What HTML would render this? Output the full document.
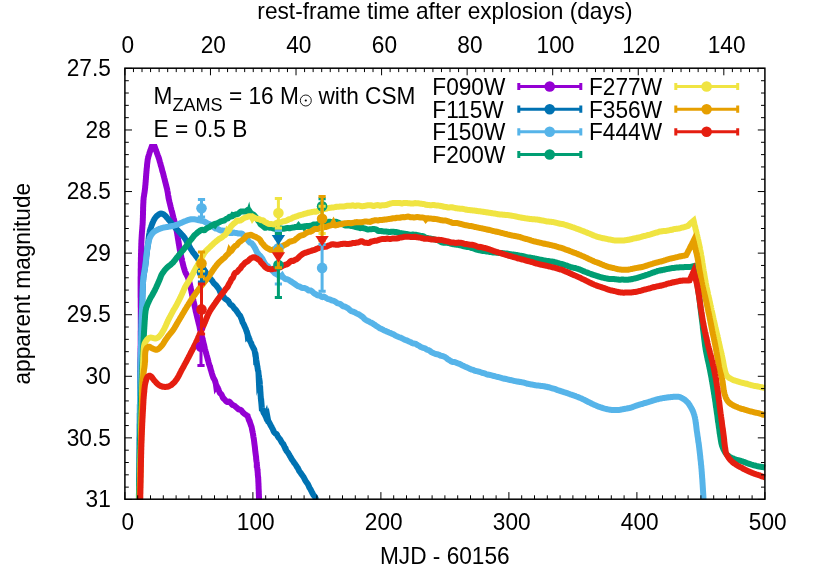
<!DOCTYPE html>
<html><head><meta charset="utf-8"><title>plot</title>
<style>html,body{margin:0;padding:0;background:#fff}svg{display:block}text{font-family:"Liberation Sans",sans-serif;fill:#000}</style></head><body>
<svg width="817" height="572" viewBox="0 0 817 572" style="will-change:transform">
<rect width="817" height="572" fill="#fff"/>
<defs><clipPath id="c"><rect x="124.1" y="67.4" width="641.6" height="432.6"/></clipPath></defs>
<g clip-path="url(#c)" fill="none" stroke-linejoin="miter" stroke-miterlimit="8" stroke-linecap="butt">
<path d="M139.5 500.5L139.5 499.7L139.5 498.9L139.5 498.1L139.5 497.3L139.5 496.5L139.5 495.7L139.5 494.9L139.5 494.1L139.6 493.3L139.6 492.5L139.6 491.7L139.6 490.9L139.6 490.0L139.6 489.2L139.6 488.4L139.6 487.6L139.6 486.8L139.6 486.0L139.6 485.2L139.6 484.4L139.6 483.6L139.6 482.8L139.6 482.0L139.6 481.2L139.6 480.4L139.6 479.6L139.7 478.8L139.7 478.0L139.7 477.2L139.7 476.4L139.7 475.6L139.7 474.8L139.7 474.0L139.7 473.2L139.7 472.4L139.7 471.6L139.7 470.8L139.7 469.9L139.7 469.1L139.7 468.3L139.7 467.5L139.7 466.7L139.7 465.9L139.7 465.1L139.8 464.3L139.8 463.5L139.8 462.7L139.8 461.9L139.8 461.1L139.8 460.3L139.8 459.5L139.8 458.7L139.8 457.9L139.8 457.1L139.8 456.3L139.8 455.5L139.8 454.7L139.8 453.9L139.8 453.1L139.8 452.3L139.8 451.5L139.8 450.7L139.8 449.8L139.9 449.0L139.9 448.2L139.9 447.4L139.9 446.6L139.9 445.8L139.9 445.0L139.9 444.2L139.9 443.4L139.9 442.6L139.9 441.8L139.9 441.0L139.9 440.2L139.9 439.4L139.9 438.6L139.9 437.8L139.9 437.0L139.9 436.2L140.0 435.4L140.0 434.6L140.0 433.8L140.0 433.0L140.0 432.2L140.0 431.4L140.0 430.6L140.0 429.7L140.0 428.9L140.0 428.1L140.0 427.3L140.0 426.5L140.0 425.7L140.0 424.9L140.0 424.1L140.0 423.3L140.0 422.5L140.0 421.7L140.1 420.9L140.1 420.1L140.1 419.3L140.1 418.5L140.1 417.7L140.1 416.9L140.1 416.1L140.1 415.3L140.1 414.5L140.1 413.7L140.1 412.9L140.1 412.1L140.1 411.3L140.1 410.5L140.1 409.6L140.1 408.8L140.1 408.0L140.1 407.2L140.2 406.4L140.2 405.6L140.2 404.8L140.2 404.0L140.2 403.2L140.2 402.4L140.2 401.6L140.2 400.8L140.2 400.0L140.2 399.2L140.2 398.4L140.2 397.6L140.2 396.8L140.2 396.0L140.2 395.2L140.2 394.4L140.2 393.6L140.3 392.8L140.3 392.0L140.3 391.2L140.3 390.4L140.3 389.6L140.3 388.8L140.3 388.0L140.3 387.2L140.3 386.4L140.3 385.6L140.3 384.8L140.3 384.0L140.3 383.2L140.3 382.4L140.3 381.6L140.4 380.8L140.4 380.0L140.4 379.2L140.4 378.4L140.4 377.6L140.4 376.8L140.4 376.0L140.4 375.2L140.4 374.4L140.4 373.6L140.4 372.8L140.4 372.0L140.4 371.2L140.4 370.4L140.5 369.6L140.5 368.8L140.5 368.0L140.5 367.2L140.5 366.4L140.5 365.6L140.5 364.8L140.5 364.0L140.5 363.2L140.5 362.4L140.5 361.6L140.5 360.8L140.5 360.0L140.5 359.2L140.6 358.4L140.6 357.6L140.6 356.8L140.6 356.0L140.6 355.2L140.6 354.4L140.6 353.6L140.6 352.8L140.6 352.0L140.6 351.2L140.6 350.4L140.6 349.6L140.6 348.8L140.6 348.0L140.6 347.2L140.6 346.4L140.7 345.6L140.7 344.8L140.7 344.0L140.7 343.2L140.7 342.4L140.7 341.6L140.7 340.8L140.7 340.0L140.7 339.2L140.7 338.4L140.7 337.6L140.7 336.8L140.7 336.0L140.7 335.2L140.7 334.4L140.7 333.6L140.7 332.8L140.7 332.0L140.7 331.2L140.8 330.4L140.8 329.6L140.8 328.8L140.8 328.0L140.8 327.2L140.8 326.4L140.8 325.6L140.8 324.8L140.8 324.0L140.8 323.2L140.8 322.4L140.8 321.6L140.8 320.8L140.8 320.0L140.8 319.2L140.8 318.4L140.8 317.6L140.8 316.7L140.8 315.9L140.8 315.1L140.8 314.3L140.8 313.5L140.8 312.7L140.8 311.9L140.8 311.1L140.8 310.2L140.8 309.4L140.8 308.6L140.8 307.8L140.7 307.0L140.7 306.2L140.7 305.4L140.7 304.6L140.7 303.7L140.7 302.9L140.7 302.1L140.7 301.3L140.7 300.5L140.7 299.7L140.7 298.9L140.7 298.1L140.6 297.2L140.6 296.4L140.6 295.6L140.6 294.8L140.6 294.0L140.6 293.2L140.6 292.4L140.6 291.6L140.6 290.7L140.6 289.9L140.6 289.1L140.6 288.3L140.6 287.5L140.6 286.7L140.6 285.9L140.6 285.1L140.6 284.2L140.6 283.4L140.6 282.6L140.6 281.8L140.6 281.0L140.6 280.2L140.6 279.4L140.6 278.6L140.6 277.8L140.6 277.0L140.7 276.2L140.7 275.4L140.7 274.6L140.7 273.8L140.7 273.0L140.7 272.2L140.7 271.4L140.7 270.6L140.7 269.8L140.7 269.0L140.8 268.2L140.8 267.4L140.8 266.6L140.8 265.8L140.8 265.0L140.8 264.2L140.8 263.4L140.8 262.6L140.9 261.8L140.9 261.0L140.9 260.2L140.9 259.4L140.9 258.6L140.9 257.8L141.0 257.0L141.0 256.2L141.0 255.4L141.0 254.6L141.0 253.8L141.1 253.0L141.1 252.2L141.1 251.4L141.1 250.6L141.1 249.8L141.2 249.0L141.2 248.2L141.2 247.4L141.2 246.6L141.3 245.8L141.3 245.0L141.3 244.2L141.3 243.4L141.4 242.6L141.4 241.8L141.4 241.0L141.5 240.1L141.5 239.3L141.6 238.5L141.6 237.7L141.7 236.8L141.7 236.0L141.8 235.2L141.8 234.4L141.9 233.5L141.9 232.7L142.0 231.9L142.1 231.1L142.1 230.2L142.2 229.4L142.3 228.6L142.3 227.8L142.4 227.0L142.4 226.1L142.5 225.3L142.6 224.5L142.6 223.7L142.7 222.8L142.7 222.0L142.7 221.2L142.8 220.4L142.8 219.6L142.8 218.7L142.9 217.9L142.9 217.1L142.9 216.3L142.9 215.5L143.0 214.7L143.0 213.9L143.0 213.0L143.0 212.2L143.0 211.4L143.1 210.6L143.1 209.8L143.1 209.0L143.1 208.1L143.1 207.3L143.2 206.5L143.2 205.7L143.2 204.9L143.3 204.1L143.3 203.3L143.4 202.4L143.4 201.6L143.4 200.8L143.5 200.0L143.6 199.2L143.6 198.4L143.7 197.6L143.8 196.8L144.0 196.0L144.1 195.2L144.2 194.4L144.3 193.6L144.5 192.8L144.6 192.0L144.7 191.2L144.8 190.4L144.9 189.6L145.0 188.8L145.1 188.0L145.2 187.2L145.2 186.4L145.3 185.6L145.4 184.8L145.5 183.9L145.5 183.1L145.6 182.3L145.7 181.5L145.7 180.7L145.8 179.9L145.9 179.1L145.9 178.3L146.0 177.5L146.0 176.7L146.1 175.9L146.2 175.0L146.2 174.2L146.3 173.4L146.4 172.6L146.4 171.8L146.5 171.0L146.6 170.2L146.6 169.4L146.7 168.6L146.8 167.8L146.9 167.0L147.0 166.1L147.0 165.3L147.1 164.5L147.2 163.7L147.3 162.9L147.4 162.1L147.5 161.3L147.6 160.5L147.7 159.6L147.9 158.8L148.1 157.9L148.3 157.1L148.5 156.2L148.8 155.4L149.0 154.5L149.3 153.7L149.5 152.8L149.8 152.0L150.1 151.2L150.4 150.4L150.7 149.5L151.0 148.7L151.3 147.9L151.6 147.1L152.4 147.1L153.2 147.1L154.0 147.1L154.8 147.1L155.1 147.9L155.4 148.7L155.7 149.5L156.0 150.4L156.3 151.2L156.6 152.0L156.9 152.8L157.1 153.5L157.4 154.3L157.7 155.1L158.0 155.8L158.3 156.6L158.5 157.4L158.8 158.2L159.0 158.9L159.3 159.7L159.5 160.5L159.7 161.3L159.9 162.1L160.2 162.8L160.4 163.6L160.6 164.4L160.8 165.2L161.0 166.0L161.3 166.8L161.5 167.5L161.7 168.3L161.9 169.1L162.1 169.9L162.3 170.7L162.5 171.5L162.8 172.3L163.0 173.0L163.2 173.8L163.4 174.6L163.6 175.4L163.8 176.2L164.0 177.0L164.2 177.8L164.4 178.5L164.6 179.3L164.8 180.1L165.0 180.9L165.2 181.7L165.4 182.5L165.6 183.3L165.8 184.1L166.0 184.9L166.2 185.6L166.4 186.4L166.6 187.2L166.8 188.0L167.0 188.8L167.2 189.6L167.3 190.4L167.5 191.2L167.6 192.0L167.8 192.8L167.9 193.6L168.0 194.4L168.1 195.2L168.3 196.0L168.4 196.8L168.5 197.6L168.7 198.4L168.8 199.2L169.0 200.0L169.2 200.8L169.4 201.6L169.6 202.5L169.8 203.3L170.0 204.1L170.2 204.9L170.4 205.7L170.6 206.5L170.8 207.4L171.0 208.2L171.2 209.0L171.4 209.8L171.6 210.6L171.9 211.4L172.1 212.3L172.3 213.1L172.5 213.9L172.7 214.7L172.9 215.5L173.1 216.3L173.3 217.1L173.5 218.0L173.8 218.8L174.0 219.6L174.2 220.4L174.4 221.2L174.6 222.0L174.8 222.8L175.0 223.7L175.2 224.5L175.4 225.3L175.6 226.1L175.8 226.9L176.0 227.8L176.2 228.6L176.4 229.4L176.6 230.2L176.7 231.0L176.9 231.9L177.0 232.7L177.2 233.5L177.3 234.3L177.4 235.2L177.6 236.0L177.7 236.8L177.8 237.7L178.0 238.5L178.1 239.3L178.2 240.1L178.4 241.0L178.5 241.8L178.6 242.6L178.8 243.4L178.9 244.2L179.0 245.0L179.2 245.8L179.3 246.6L179.4 247.5L179.6 248.3L179.7 249.1L179.9 249.9L180.0 250.7L180.2 251.5L180.3 252.3L180.5 253.1L180.6 253.9L180.8 254.7L181.0 255.5L181.2 256.3L181.3 257.1L181.5 257.9L181.7 258.8L181.9 259.6L182.0 260.4L182.2 261.2L182.4 262.0L182.6 262.8L182.8 263.6L183.0 264.4L183.2 265.2L183.4 266.0L183.6 266.8L183.9 267.6L184.1 268.4L184.3 269.2L184.6 270.0L184.8 270.8L185.1 271.6L185.4 272.3L185.7 273.1L186.1 273.8L186.5 274.5L186.9 275.3L187.2 276.0L187.6 276.7L187.9 277.5L188.2 278.2L188.5 279.0L188.7 279.8L189.0 280.6L189.2 281.4L189.4 282.2L189.6 283.0L189.8 283.8L190.0 284.6L190.2 285.4L190.3 286.2L190.5 287.1L190.7 287.9L190.9 288.7L191.0 289.5L191.2 290.3L191.4 291.1L191.5 291.9L191.7 292.8L191.9 293.6L192.0 294.4L192.2 295.2L192.4 296.0L192.6 296.8L192.8 297.6L192.9 298.4L193.1 299.2L193.3 300.0L193.5 300.9L193.7 301.7L193.8 302.5L194.0 303.3L194.2 304.1L194.4 304.9L194.6 305.7L194.7 306.5L194.9 307.3L195.1 308.1L195.3 309.0L195.5 309.8L195.6 310.6L195.8 311.4L196.0 312.2L196.2 313.0L196.4 313.8L196.6 314.7L196.8 315.5L197.0 316.3L197.2 317.2L197.4 318.0L197.6 318.8L197.8 319.6L198.0 320.5L198.2 321.3L198.4 322.1L198.6 322.9L198.8 323.7L199.0 324.5L199.2 325.3L199.4 326.1L199.6 326.9L199.7 327.7L199.9 328.4L200.1 329.2L200.3 330.0L200.5 330.8L200.7 331.6L200.9 332.4L201.1 333.2L201.3 334.0L201.5 334.8L201.7 335.7L201.9 336.5L202.1 337.4L202.4 338.2L202.6 339.1L202.8 339.9L203.0 340.8L203.2 341.6L203.4 342.4L203.6 343.2L203.8 344.0L204.0 344.8L204.2 345.6L204.4 346.4L204.6 347.2L204.7 348.0L204.9 348.8L205.1 349.5L205.3 350.3L205.5 351.1L205.8 351.9L206.0 352.7L206.2 353.5L206.4 354.3L206.6 355.1L206.9 355.9L207.1 356.7L207.3 357.5L207.5 358.3L207.7 359.1L207.9 359.9L208.2 360.7L208.4 361.5L208.6 362.4L208.8 363.2L209.0 364.0L209.3 364.7L209.5 365.3L209.7 366.0L209.9 366.6L210.2 367.4L210.4 368.2L210.6 369.0L210.8 369.9L211.1 370.6L211.3 371.4L211.6 372.3L211.8 373.2L212.1 374.1L212.3 374.9L212.6 375.8L212.9 376.5L213.1 377.2L213.4 377.9L213.7 378.5L214.0 378.9L214.3 379.3L214.6 379.9L214.9 380.6L215.2 381.6L215.5 382.7L215.8 383.6L216.1 385.7L216.4 385.2L216.7 385.8L217.0 386.4L217.3 387.1L217.7 387.7L218.0 388.5L218.4 389.3L218.7 390.1L219.1 391.0L219.4 392.0L219.8 392.8L220.2 393.3L220.6 393.6L221.0 393.9L221.5 394.5L221.9 395.4L222.4 396.5L222.8 397.5L223.3 398.2L223.8 398.7L224.3 399.1L224.9 399.8L225.4 400.5L226.0 401.2L226.6 401.7L227.3 402.0L227.9 402.0L228.6 401.7L229.2 401.6L229.9 402.0L230.6 402.8L231.3 403.7L232.0 404.5L232.7 405.0L233.4 405.3L234.1 405.6L234.8 406.0L235.5 406.6L236.2 407.3L236.8 407.8L237.5 408.4L238.2 409.0L238.8 409.4L239.5 409.6L240.2 409.7L240.9 410.0L241.5 410.5L242.2 411.5L242.9 412.4L243.6 413.1L244.2 413.6L244.9 414.1L245.6 414.6L246.3 415.1L246.9 415.5L247.6 415.9L247.8 416.7L248.1 417.5L248.4 418.2L248.6 419.1L248.9 419.9L249.1 420.4L249.4 420.6L249.7 421.2L249.9 422.1L250.2 423.0L250.4 423.7L250.7 424.4L250.9 425.2L251.2 425.8L251.4 426.4L251.6 427.0L251.8 428.0L252.0 429.1L252.2 430.1L252.4 431.0L252.5 431.7L252.7 432.3L252.8 433.0L253.0 434.0L253.1 434.9L253.3 435.8L253.4 436.8L253.5 437.5L253.7 438.1L253.8 438.9L253.9 439.7L254.0 440.5L254.1 441.2L254.2 442.0L254.3 442.9L254.4 443.7L254.5 444.4L254.6 445.1L254.7 445.8L254.8 446.6L254.9 447.4L255.0 448.5L255.1 449.6L255.2 450.5L255.3 451.3L255.4 452.0L255.5 452.8L255.6 453.6L255.7 454.3L255.8 455.1L255.9 455.9L256.0 456.6L256.1 457.2L256.1 458.1L256.2 459.1L256.3 460.0L256.4 460.8L256.5 461.5L256.6 461.9L256.7 462.2L256.8 462.8L256.8 464.8L256.9 464.8L257.0 465.8L257.1 466.7L257.2 467.3L257.2 467.9L257.3 468.7L257.4 469.7L257.5 470.4L257.6 470.9L257.6 471.7L257.7 472.5L257.8 473.4L257.8 474.4L257.9 475.5L258.0 476.4L258.0 476.8L258.1 477.1L258.2 477.5L258.2 478.5L258.3 479.8L258.3 481.1L258.4 482.2L258.4 483.1L258.5 483.8L258.5 484.7L258.5 485.6L258.6 486.5L258.6 487.4L258.6 488.3L258.7 489.2L258.7 489.9L258.7 490.4L258.8 491.1L258.8 491.9L258.8 492.6L258.8 493.5L258.9 494.3L258.9 495.2L258.9 495.9L259.0 496.9L259.0 498.0L259.0 499.1L259.1 500.0L259.1 500.9" stroke="#9400D3" stroke-width="6.0"/>
<path d="M139.3 500.5L139.3 499.7L139.3 498.9L139.3 498.1L139.3 497.3L139.3 496.5L139.3 495.7L139.3 494.9L139.3 494.1L139.3 493.3L139.4 492.5L139.4 491.7L139.4 490.9L139.4 490.0L139.4 489.2L139.4 488.4L139.4 487.6L139.4 486.8L139.4 486.0L139.4 485.2L139.4 484.4L139.4 483.6L139.4 482.8L139.4 482.0L139.4 481.2L139.4 480.4L139.4 479.6L139.4 478.8L139.4 478.0L139.4 477.2L139.4 476.4L139.4 475.6L139.5 474.8L139.5 474.0L139.5 473.2L139.5 472.4L139.5 471.6L139.5 470.8L139.5 469.9L139.5 469.1L139.5 468.3L139.5 467.5L139.5 466.7L139.5 465.9L139.5 465.1L139.5 464.3L139.5 463.5L139.5 462.7L139.5 461.9L139.5 461.1L139.5 460.3L139.5 459.5L139.5 458.7L139.5 457.9L139.5 457.1L139.5 456.3L139.5 455.5L139.6 454.7L139.6 453.9L139.6 453.1L139.6 452.3L139.6 451.5L139.6 450.7L139.6 449.8L139.6 449.0L139.6 448.2L139.6 447.4L139.6 446.6L139.6 445.8L139.6 445.0L139.6 444.2L139.6 443.4L139.6 442.6L139.6 441.8L139.6 441.0L139.6 440.2L139.6 439.4L139.6 438.6L139.6 437.8L139.7 437.0L139.7 436.2L139.7 435.4L139.7 434.6L139.7 433.8L139.7 433.0L139.7 432.2L139.7 431.4L139.7 430.6L139.7 429.7L139.7 428.9L139.7 428.1L139.7 427.3L139.7 426.5L139.7 425.7L139.7 424.9L139.7 424.1L139.8 423.3L139.8 422.5L139.8 421.7L139.8 420.9L139.8 420.1L139.8 419.3L139.8 418.5L139.8 417.7L139.8 416.9L139.8 416.1L139.8 415.3L139.8 414.5L139.8 413.7L139.9 412.9L139.9 412.1L139.9 411.3L139.9 410.5L139.9 409.6L139.9 408.8L139.9 408.0L139.9 407.2L139.9 406.4L139.9 405.6L139.9 404.8L140.0 404.0L140.0 403.2L140.0 402.4L140.0 401.6L140.0 400.8L140.0 400.0L140.0 399.2L140.0 398.4L140.0 397.6L140.0 396.8L140.1 396.0L140.1 395.2L140.1 394.4L140.1 393.5L140.1 392.7L140.1 391.9L140.1 391.1L140.1 390.3L140.1 389.5L140.2 388.7L140.2 387.9L140.2 387.1L140.2 386.3L140.2 385.5L140.2 384.7L140.2 383.9L140.2 383.1L140.3 382.3L140.3 381.5L140.3 380.6L140.3 379.8L140.3 379.0L140.3 378.2L140.3 377.4L140.4 376.6L140.4 375.8L140.4 375.0L140.4 374.2L140.4 373.4L140.4 372.6L140.4 371.8L140.5 371.0L140.5 370.2L140.5 369.4L140.5 368.6L140.5 367.8L140.5 366.9L140.6 366.1L140.6 365.3L140.6 364.5L140.6 363.7L140.6 362.9L140.6 362.1L140.7 361.3L140.7 360.5L140.7 359.7L140.7 358.9L140.7 358.1L140.7 357.3L140.8 356.5L140.8 355.7L140.8 354.9L140.8 354.0L140.8 353.2L140.8 352.4L140.9 351.6L140.9 350.8L140.9 350.0L140.9 349.2L140.9 348.4L141.0 347.6L141.0 346.8L141.0 346.0L141.0 345.2L141.0 344.4L141.1 343.6L141.1 342.8L141.1 342.0L141.1 341.1L141.1 340.3L141.1 339.5L141.2 338.7L141.2 337.9L141.2 337.1L141.2 336.3L141.2 335.5L141.3 334.7L141.3 333.9L141.3 333.1L141.3 332.3L141.3 331.5L141.4 330.7L141.4 329.9L141.4 329.1L141.4 328.2L141.5 327.4L141.5 326.6L141.5 325.8L141.5 325.0L141.5 324.2L141.6 323.4L141.6 322.6L141.6 321.8L141.6 321.0L141.6 320.2L141.7 319.4L141.7 318.6L141.7 317.8L141.7 317.0L141.7 316.2L141.8 315.4L141.8 314.6L141.8 313.8L141.8 313.0L141.9 312.1L141.9 311.3L141.9 310.5L141.9 309.7L141.9 308.9L142.0 308.1L142.0 307.3L142.0 306.5L142.0 305.7L142.1 304.9L142.1 304.1L142.1 303.3L142.1 302.5L142.2 301.7L142.2 300.9L142.2 300.1L142.3 299.3L142.3 298.5L142.3 297.7L142.3 296.9L142.4 296.1L142.4 295.3L142.4 294.5L142.5 293.7L142.5 292.9L142.5 292.0L142.6 291.2L142.6 290.4L142.7 289.6L142.7 288.8L142.7 288.0L142.8 287.2L142.8 286.4L142.9 285.6L142.9 284.8L143.0 284.0L143.0 283.2L143.0 282.4L143.1 281.6L143.1 280.8L143.2 280.0L143.3 279.2L143.3 278.4L143.4 277.6L143.5 276.8L143.6 276.0L143.7 275.2L143.9 274.4L144.0 273.6L144.1 272.8L144.3 272.0L144.4 271.3L144.5 270.5L144.7 269.7L144.8 268.9L144.9 268.1L145.1 267.3L145.2 266.5L145.3 265.7L145.4 264.9L145.5 264.1L145.6 263.3L145.7 262.4L145.8 261.6L145.9 260.8L146.0 260.0L146.1 259.2L146.2 258.4L146.2 257.5L146.3 256.7L146.4 255.9L146.5 255.1L146.6 254.3L146.7 253.4L146.8 252.6L146.9 251.8L147.0 251.0L147.1 250.1L147.2 249.3L147.4 248.4L147.5 247.6L147.6 246.7L147.8 245.9L147.9 245.1L148.1 244.2L148.2 243.4L148.3 242.5L148.4 241.6L148.5 240.8L148.6 239.9L148.6 239.0L148.7 238.2L148.8 237.3L148.9 236.5L149.0 235.6L149.1 234.8L149.3 234.0L149.4 233.2L149.6 232.4L149.7 231.6L149.9 230.8L150.1 230.0L150.4 229.2L150.6 228.4L150.9 227.6L151.1 226.8L151.4 226.0L151.7 225.2L152.0 224.4L152.3 223.7L152.6 222.9L152.9 222.1L153.3 221.3L153.6 220.6L154.0 219.8L154.4 219.1L154.9 218.3L155.4 217.6L156.0 216.9L156.6 216.2L157.3 215.6L158.0 215.0L158.7 214.5L159.4 214.0L160.2 213.6L161.0 213.5L161.9 213.6L162.8 214.0L163.7 214.4L164.5 215.0L165.2 215.6L165.8 216.3L166.4 217.0L167.0 217.7L167.6 218.4L168.1 219.0L168.7 219.7L169.2 220.3L169.7 220.9L170.2 221.5L170.7 222.2L171.2 222.8L171.8 223.4L172.3 224.1L172.8 224.7L173.3 225.3L173.8 226.0L174.4 226.6L174.9 227.2L175.5 227.8L176.0 228.5L176.6 229.1L177.2 229.7L177.7 230.3L178.3 230.9L178.9 231.5L179.4 232.1L180.0 232.7L180.6 233.3L181.2 234.0L181.7 234.6L182.3 235.2L183.0 235.9L183.6 236.6L184.2 237.4L184.8 238.2L185.2 238.9L185.7 239.6L186.1 240.3L186.5 241.1L186.9 241.8L187.3 242.5L187.7 243.3L188.1 244.0L188.5 244.7L188.9 245.5L189.3 246.2L189.7 246.9L190.1 247.6L190.5 248.4L190.9 249.1L191.4 249.8L191.8 250.5L192.3 251.2L192.7 251.9L193.2 252.6L193.8 253.3L194.3 253.9L194.8 254.6L195.3 255.3L195.8 256.0L196.3 256.6L196.9 257.3L197.4 258.0L197.8 258.7L198.3 259.4L198.7 260.1L199.1 260.8L199.6 261.5L200.0 262.2L200.4 262.9L200.7 263.6L201.1 264.3L201.5 265.0L201.9 265.7L202.3 266.4L202.7 267.1L203.1 267.8L203.4 268.5L203.8 269.2L204.2 269.9L204.7 270.6L205.1 271.3L205.5 272.0L206.0 272.7L206.4 273.4L206.9 274.1L207.4 274.8L207.9 275.5L208.4 276.2L208.9 276.9L209.4 277.5L209.9 278.2L210.4 278.8L211.0 279.4L211.5 280.0L212.0 280.5L212.5 281.1L213.0 282.0L213.5 282.8L214.0 283.4L214.6 283.9L215.1 284.4L215.6 284.9L216.1 285.4L216.6 286.0L217.2 286.7L217.7 287.5L218.2 288.1L218.7 288.7L219.2 289.7L219.7 290.9L220.2 292.0L220.7 292.0L221.2 293.7L221.7 294.2L222.2 294.6L222.7 295.3L223.2 296.1L223.7 296.9L224.2 297.7L224.8 298.4L225.3 298.9L225.8 299.2L226.3 299.4L226.9 299.9L227.4 300.3L227.9 300.8L228.5 301.3L229.0 302.2L229.6 303.2L230.1 304.1L230.7 304.8L231.2 305.1L231.8 305.3L232.3 305.7L232.9 306.3L233.4 307.1L234.0 308.0L234.5 308.6L235.0 309.1L235.5 309.6L236.1 310.3L236.5 311.0L237.0 311.7L237.5 312.3L238.0 313.0L238.4 313.8L238.8 314.4L239.2 314.8L239.6 315.1L240.0 315.6L240.4 316.4L240.8 317.3L241.2 318.3L241.6 319.1L241.9 320.2L242.3 321.4L242.6 322.3L243.0 322.9L243.3 323.5L243.6 324.1L243.9 324.7L244.3 325.6L244.6 326.4L244.9 327.1L245.2 327.7L245.5 328.2L245.8 329.0L246.1 330.0L246.4 330.9L246.7 331.6L246.9 332.4L247.2 333.4L247.5 334.2L247.7 336.0L248.0 335.7L248.2 336.4L248.5 336.9L248.8 337.4L249.0 338.0L249.3 338.8L249.6 339.8L249.9 340.6L250.2 341.3L250.5 341.9L250.9 342.6L251.3 343.4L251.6 344.4L252.0 345.3L252.4 346.1L252.8 346.9L253.2 347.7L253.5 348.4L253.8 348.9L254.0 349.1L254.2 349.5L254.4 350.1L254.6 350.7L254.7 351.3L254.9 352.3L255.1 353.5L255.3 354.7L255.4 355.7L255.6 356.6L255.8 357.3L255.9 358.8L256.1 358.6L256.2 359.4L256.4 360.3L256.5 361.9L256.7 362.2L256.8 363.1L257.0 364.1L257.1 365.0L257.2 365.8L257.4 366.5L257.5 367.2L257.6 368.2L257.8 369.3L257.9 370.1L258.0 370.5L258.1 370.8L258.3 371.3L258.4 372.3L258.5 373.2L258.6 375.4L258.7 375.0L258.9 375.9L259.0 376.7L259.1 377.5L259.2 378.2L259.3 378.8L259.4 380.3L259.5 380.3L259.6 380.9L259.7 381.6L259.8 382.6L259.8 383.8L259.9 384.8L260.0 385.5L260.1 386.1L260.1 386.9L260.2 387.9L260.2 389.0L260.3 390.0L260.3 390.8L260.4 391.5L260.4 392.1L260.5 392.8L260.5 393.6L260.6 394.3L260.6 395.1L260.7 396.2L260.8 397.2L260.8 398.1L260.9 398.8L261.0 399.5L261.0 400.1L261.1 400.8L261.2 401.7L261.3 402.7L261.4 403.8L261.5 405.0L261.6 404.9L261.8 407.3L262.0 408.2L262.2 408.8L262.5 409.3L262.8 410.1L263.1 411.3L263.4 412.3L263.7 413.0L264.0 413.4L264.3 413.9L264.7 414.4L265.0 415.1L265.3 415.9L265.7 416.7L266.0 415.9L266.4 418.2L266.7 419.1L267.1 420.0L267.5 420.5L267.9 419.3L268.2 420.9L268.6 421.5L269.0 422.1L269.4 422.8L269.8 423.6L270.2 424.6L270.7 425.4L271.1 426.1L271.6 426.9L272.0 427.8L272.5 428.6L273.0 429.6L273.4 430.7L273.9 431.7L274.4 432.5L274.9 433.0L275.3 433.4L275.8 433.6L276.3 433.9L276.7 434.4L277.2 435.1L277.6 436.0L278.1 436.8L278.5 437.5L278.9 438.0L279.3 438.4L279.8 438.9L280.2 439.5L280.6 440.2L281.0 441.0L281.5 441.8L281.9 442.6L282.3 443.1L282.7 443.6L283.2 444.0L283.6 444.8L284.0 445.8L284.4 446.7L284.8 447.4L285.3 448.7L285.7 448.8L286.1 449.9L286.5 450.9L287.0 451.5L287.4 451.9L287.8 452.4L288.2 453.1L288.6 453.8L289.1 454.4L289.5 455.2L289.9 456.1L290.3 456.7L290.8 457.5L291.2 458.3L291.6 459.0L292.0 459.6L292.5 460.2L292.9 460.8L293.3 461.5L293.8 462.2L294.2 462.9L294.7 463.4L295.1 464.0L295.6 464.6L296.0 465.3L296.5 466.1L296.9 466.8L297.3 467.4L297.8 468.0L298.2 468.8L298.7 469.8L299.1 470.8L299.6 471.6L300.0 472.1L300.5 472.6L300.9 473.3L301.4 474.0L301.8 474.6L302.3 475.2L302.7 475.9L303.2 476.5L303.6 477.1L304.0 477.8L304.5 478.8L304.9 479.7L305.3 480.5L305.8 481.2L306.2 481.8L306.6 482.4L307.0 482.9L307.4 483.4L307.8 484.0L308.2 484.8L308.7 485.9L309.1 487.0L309.4 487.7L309.8 488.2L310.2 488.8L310.6 489.5L311.0 490.3L311.4 491.1L311.8 492.0L312.2 492.7L312.5 493.3L312.9 494.0L313.3 494.8L313.7 495.4L314.1 495.8L314.5 496.1L314.8 496.6L315.2 497.4L315.6 498.3L316.0 499.2L316.4 499.9" stroke="#0072B2" stroke-width="6.0"/>
<path d="M139.3 500.5L139.3 499.7L139.3 498.9L139.3 498.1L139.3 497.3L139.3 496.5L139.3 495.7L139.3 494.9L139.3 494.1L139.3 493.3L139.4 492.5L139.4 491.7L139.4 490.9L139.4 490.0L139.4 489.2L139.4 488.4L139.4 487.6L139.4 486.8L139.4 486.0L139.4 485.2L139.4 484.4L139.4 483.6L139.4 482.8L139.4 482.0L139.4 481.2L139.4 480.4L139.4 479.6L139.4 478.8L139.4 478.0L139.4 477.2L139.4 476.4L139.4 475.6L139.5 474.8L139.5 474.0L139.5 473.2L139.5 472.4L139.5 471.6L139.5 470.8L139.5 469.9L139.5 469.1L139.5 468.3L139.5 467.5L139.5 466.7L139.5 465.9L139.5 465.1L139.5 464.3L139.5 463.5L139.5 462.7L139.5 461.9L139.5 461.1L139.5 460.3L139.5 459.5L139.5 458.7L139.5 457.9L139.5 457.1L139.5 456.3L139.5 455.5L139.6 454.7L139.6 453.9L139.6 453.1L139.6 452.3L139.6 451.5L139.6 450.7L139.6 449.8L139.6 449.0L139.6 448.2L139.6 447.4L139.6 446.6L139.6 445.8L139.6 445.0L139.6 444.2L139.6 443.4L139.6 442.6L139.6 441.8L139.6 441.0L139.6 440.2L139.6 439.4L139.6 438.6L139.6 437.8L139.7 437.0L139.7 436.2L139.7 435.4L139.7 434.6L139.7 433.8L139.7 433.0L139.7 432.2L139.7 431.4L139.7 430.6L139.7 429.7L139.7 428.9L139.7 428.1L139.7 427.3L139.7 426.5L139.7 425.7L139.7 424.9L139.7 424.1L139.8 423.3L139.8 422.5L139.8 421.7L139.8 420.9L139.8 420.1L139.8 419.3L139.8 418.5L139.8 417.7L139.8 416.9L139.8 416.1L139.8 415.3L139.8 414.5L139.8 413.7L139.9 412.9L139.9 412.1L139.9 411.3L139.9 410.5L139.9 409.6L139.9 408.8L139.9 408.0L139.9 407.2L139.9 406.4L139.9 405.6L139.9 404.8L140.0 404.0L140.0 403.2L140.0 402.4L140.0 401.6L140.0 400.8L140.0 400.0L140.0 399.2L140.0 398.4L140.0 397.6L140.0 396.8L140.1 396.0L140.1 395.2L140.1 394.4L140.1 393.5L140.1 392.7L140.1 391.9L140.1 391.1L140.1 390.3L140.1 389.5L140.2 388.7L140.2 387.9L140.2 387.1L140.2 386.3L140.2 385.5L140.2 384.7L140.2 383.9L140.3 383.1L140.3 382.3L140.3 381.5L140.3 380.6L140.3 379.8L140.3 379.0L140.3 378.2L140.4 377.4L140.4 376.6L140.4 375.8L140.4 375.0L140.4 374.2L140.4 373.4L140.4 372.6L140.5 371.8L140.5 371.0L140.5 370.2L140.5 369.4L140.5 368.6L140.5 367.8L140.6 366.9L140.6 366.1L140.6 365.3L140.6 364.5L140.6 363.7L140.6 362.9L140.7 362.1L140.7 361.3L140.7 360.5L140.7 359.7L140.7 358.9L140.7 358.1L140.8 357.3L140.8 356.5L140.8 355.7L140.8 354.9L140.8 354.0L140.9 353.2L140.9 352.4L140.9 351.6L140.9 350.8L140.9 350.0L140.9 349.2L141.0 348.4L141.0 347.6L141.0 346.8L141.0 346.0L141.0 345.2L141.1 344.4L141.1 343.6L141.1 342.8L141.1 342.0L141.1 341.1L141.2 340.3L141.2 339.5L141.2 338.7L141.2 337.9L141.2 337.1L141.2 336.3L141.3 335.5L141.3 334.7L141.3 333.9L141.3 333.1L141.3 332.3L141.4 331.5L141.4 330.7L141.4 329.9L141.4 329.1L141.4 328.2L141.5 327.4L141.5 326.6L141.5 325.8L141.5 325.0L141.5 324.2L141.6 323.4L141.6 322.6L141.6 321.8L141.6 321.0L141.6 320.1L141.7 319.3L141.7 318.5L141.7 317.7L141.8 316.8L141.8 316.0L141.8 315.2L141.9 314.4L141.9 313.5L141.9 312.7L142.0 311.9L142.0 311.1L142.0 310.2L142.1 309.4L142.1 308.6L142.2 307.8L142.2 306.9L142.2 306.1L142.3 305.3L142.3 304.5L142.3 303.7L142.4 302.8L142.4 302.0L142.4 301.2L142.5 300.4L142.5 299.6L142.5 298.7L142.5 297.9L142.5 297.1L142.6 296.3L142.6 295.5L142.6 294.7L142.6 293.8L142.6 293.0L142.7 292.2L142.7 291.4L142.7 290.6L142.7 289.8L142.7 289.0L142.8 288.1L142.8 287.3L142.8 286.5L142.9 285.7L142.9 284.9L142.9 284.1L143.0 283.3L143.0 282.4L143.1 281.6L143.1 280.8L143.2 280.0L143.3 279.2L143.4 278.4L143.4 277.6L143.5 276.8L143.7 276.0L143.8 275.2L143.9 274.4L144.0 273.6L144.2 272.8L144.3 272.0L144.4 271.3L144.6 270.5L144.7 269.7L144.8 268.9L145.0 268.1L145.1 267.3L145.2 266.5L145.3 265.7L145.4 264.9L145.5 264.1L145.6 263.3L145.7 262.4L145.8 261.6L145.9 260.8L146.0 260.0L146.1 259.2L146.1 258.3L146.2 257.5L146.3 256.7L146.4 255.9L146.5 255.1L146.6 254.3L146.7 253.4L146.8 252.6L146.9 251.8L147.0 251.0L147.1 250.2L147.2 249.3L147.4 248.5L147.5 247.6L147.6 246.8L147.8 246.0L147.9 245.1L148.1 244.3L148.2 243.5L148.4 242.6L148.6 241.8L148.8 241.0L149.0 240.1L149.3 239.3L149.5 238.5L149.9 237.7L150.2 237.0L150.6 236.2L151.0 235.5L151.5 234.7L152.0 234.0L152.5 233.4L153.1 232.7L153.7 232.1L154.4 231.6L155.1 231.1L155.8 230.7L156.5 230.3L157.2 229.9L157.9 229.6L158.7 229.2L159.4 228.9L160.2 228.6L160.9 228.4L161.7 228.1L162.5 227.9L163.3 227.7L164.1 227.5L164.9 227.4L165.7 227.2L166.6 227.1L167.4 227.0L168.2 226.9L169.0 226.7L169.8 226.5L170.7 226.3L171.5 226.2L172.3 226.0L173.1 225.8L174.0 225.6L174.8 225.4L175.6 225.2L176.4 224.9L177.2 224.6L178.0 224.3L178.7 224.0L179.5 223.6L180.2 223.3L181.0 223.0L181.7 222.6L182.5 222.3L183.3 221.9L184.0 221.6L184.8 221.3L185.6 221.0L186.3 220.7L187.1 220.4L187.9 220.2L188.6 219.9L189.4 219.7L190.2 219.5L191.0 219.3L191.8 219.2L192.7 219.2L193.6 219.2L194.5 219.3L195.4 219.4L196.2 219.6L197.1 219.8L198.0 220.0L198.8 220.2L199.7 220.3L200.5 220.5L201.4 220.7L202.2 221.0L203.0 221.2L203.9 221.4L204.7 221.8L205.5 222.2L206.3 222.6L207.0 223.1L207.7 223.4L208.4 223.7L209.1 224.0L209.8 224.4L210.6 224.6L211.3 224.7L212.0 225.2L212.7 225.9L213.4 226.8L214.1 227.5L214.8 228.1L215.6 228.5L216.3 228.6L217.0 228.7L217.7 228.9L218.5 229.4L219.2 229.8L220.0 230.2L220.8 230.4L221.6 230.4L222.4 230.5L223.2 230.6L224.0 230.8L224.9 230.8L225.7 230.9L226.5 231.3L227.3 231.9L228.2 232.4L229.0 232.8L229.8 233.0L230.6 233.1L231.5 233.0L232.3 233.0L233.1 232.7L234.0 232.6L234.8 232.8L235.6 233.0L236.5 233.1L237.3 233.2L238.0 233.4L238.8 233.4L239.5 233.4L240.3 233.4L241.0 233.5L241.7 233.7L242.3 233.9L243.0 234.6L243.6 235.7L244.3 236.7L244.9 237.4L245.5 237.7L246.1 238.1L246.7 238.6L247.3 239.3L247.9 240.2L248.5 241.1L249.1 241.7L249.6 242.2L250.2 242.7L250.7 243.0L251.3 243.1L251.8 243.4L252.3 244.0L252.8 244.7L253.3 245.3L253.8 246.1L254.3 246.9L254.8 247.8L255.3 248.7L255.8 249.8L256.3 250.9L256.8 251.9L257.3 252.6L257.8 253.3L258.3 254.0L258.8 254.6L259.3 255.1L259.7 255.4L260.2 255.8L260.6 256.3L261.1 257.0L261.5 257.6L261.9 258.1L262.4 258.7L262.8 259.5L263.3 260.5L263.7 261.5L264.2 262.2L264.6 262.9L265.1 263.6L265.6 264.2L266.0 264.8L266.5 265.3L267.0 265.7L267.6 266.0L268.1 266.5L268.7 267.4L269.2 268.3L269.8 268.9L270.4 269.0L271.0 269.2L271.6 269.7L272.2 270.4L272.8 271.1L273.4 271.7L274.1 272.5L274.7 273.1L275.4 273.6L276.0 273.9L276.7 274.3L277.3 274.7L278.0 275.1L278.7 275.4L279.3 275.7L280.0 276.1L280.7 276.4L281.4 276.6L282.1 275.8L282.8 277.0L283.5 277.5L284.2 278.0L284.9 278.7L285.7 279.1L286.4 279.2L287.1 279.2L287.8 279.5L288.6 279.8L289.3 280.3L290.0 280.9L290.7 281.3L291.5 281.7L292.2 282.2L293.0 282.7L293.7 283.2L294.4 283.8L295.2 284.2L295.9 284.7L296.6 285.2L297.4 285.7L298.1 286.2L298.9 286.4L299.6 286.6L300.3 287.0L301.1 287.4L301.8 287.8L302.6 287.9L303.3 287.9L304.1 288.0L304.8 288.2L305.6 288.5L306.3 288.8L307.1 289.2L307.8 289.8L308.6 290.4L309.3 290.6L310.1 290.6L310.8 290.6L311.6 291.0L312.4 291.6L313.1 292.4L313.9 293.1L314.6 293.6L315.4 294.0L316.2 294.4L316.9 295.0L317.7 295.4L318.4 295.5L319.2 295.4L320.0 295.6L320.7 296.2L321.5 296.8L322.3 297.0L323.1 296.7L323.8 296.6L324.6 296.9L325.4 297.4L326.2 298.0L327.0 298.5L327.7 298.9L328.5 299.1L329.3 299.3L330.1 299.6L330.8 299.9L331.6 300.3L332.4 300.5L333.1 300.6L333.9 300.9L334.6 301.3L335.4 301.8L336.1 302.3L336.9 302.8L337.6 303.2L338.3 303.5L339.1 303.7L339.8 303.9L340.5 304.2L341.3 304.8L342.0 305.4L342.7 306.0L343.4 306.4L344.2 306.5L344.9 306.7L345.6 307.0L346.3 307.4L347.0 307.8L347.8 308.1L348.5 308.7L349.2 309.4L350.0 310.2L350.7 310.7L351.4 311.1L352.2 311.3L352.9 311.5L353.6 311.8L354.3 312.2L355.1 312.5L355.8 313.0L356.5 313.4L357.3 313.8L358.0 314.0L358.7 314.3L359.4 314.7L360.1 315.2L360.9 315.8L361.6 316.3L362.3 316.8L363.0 317.3L363.7 318.1L364.3 318.8L365.0 319.4L365.7 319.8L366.4 320.2L367.0 320.6L367.7 320.9L368.4 321.2L369.1 321.6L369.7 322.0L370.4 322.4L371.1 322.6L371.7 322.9L372.4 323.3L373.1 323.8L373.8 324.3L374.5 324.6L375.1 325.1L375.8 325.7L376.5 326.2L377.2 326.5L377.9 326.9L378.6 327.5L379.3 328.0L380.0 328.4L380.8 328.6L381.5 328.9L382.2 329.3L382.9 329.7L383.6 330.1L384.4 330.5L385.1 330.8L385.8 331.1L386.5 331.4L387.3 331.7L388.0 332.0L388.7 332.4L389.4 332.7L390.2 332.9L390.9 333.2L391.6 333.6L392.4 334.0L393.1 334.2L393.8 334.5L394.6 334.9L395.3 335.5L396.0 335.9L396.8 336.2L397.5 336.5L398.2 336.8L399.0 337.1L399.7 337.3L400.5 337.5L401.2 337.9L402.0 338.3L402.7 338.7L403.5 339.1L404.3 339.5L405.0 339.8L405.8 340.0L406.5 340.3L407.3 340.7L408.0 341.1L408.8 341.4L409.5 341.7L410.3 342.0L411.1 342.4L411.8 342.9L412.6 343.3L413.3 343.5L414.1 343.5L414.8 343.6L415.6 343.8L416.3 344.3L417.1 344.8L417.9 345.2L418.6 345.5L419.4 345.9L420.1 346.5L420.9 347.0L421.7 347.3L422.4 347.6L423.2 347.8L423.9 348.0L424.7 348.3L425.4 348.6L426.2 349.2L427.0 349.6L427.7 349.8L428.5 350.0L429.2 350.4L430.0 351.0L430.8 351.6L431.5 352.2L432.3 352.6L433.0 352.9L433.8 353.2L434.5 353.5L435.3 353.8L436.0 354.0L436.8 354.2L437.5 354.3L438.3 354.5L439.0 354.8L439.8 355.2L440.6 355.7L441.3 355.9L442.1 356.0L442.8 356.2L443.6 356.5L444.3 356.7L445.1 357.1L445.8 357.6L446.6 358.2L447.3 358.8L448.1 359.4L448.8 359.8L449.6 360.2L450.4 360.8L451.1 361.3L451.9 361.7L452.6 361.9L453.4 361.9L454.1 361.9L454.9 362.1L455.7 362.4L456.4 362.8L457.2 363.1L457.9 363.4L458.7 363.6L459.5 363.9L460.2 364.2L461.0 364.6L461.8 365.1L462.5 365.5L463.3 365.8L464.0 366.2L464.8 366.6L465.5 366.9L466.3 367.1L467.0 367.4L467.8 367.8L468.5 368.2L469.3 368.6L470.0 368.9L470.8 369.2L471.5 369.5L472.3 369.6L473.0 369.9L473.8 370.2L474.5 370.6L475.3 370.8L476.0 371.0L476.8 371.2L477.6 371.4L478.3 371.6L479.1 371.7L479.8 371.9L480.6 372.2L481.4 372.5L482.1 372.8L482.9 373.0L483.7 373.2L484.5 373.5L485.3 373.7L486.0 374.0L486.8 374.3L487.6 374.5L488.4 374.7L489.2 374.8L490.0 374.9L490.8 375.1L491.6 375.3L492.4 375.5L493.2 375.8L494.0 376.0L494.8 376.2L495.5 376.4L496.3 376.6L497.1 376.8L497.9 377.0L498.7 377.2L499.5 377.4L500.3 377.6L501.1 377.8L501.9 378.1L502.7 378.3L503.5 378.5L504.3 378.7L505.1 378.8L505.9 379.0L506.7 379.2L507.5 379.4L508.3 379.6L509.1 379.8L509.9 379.9L510.6 380.1L511.4 380.2L512.2 380.4L513.0 380.6L513.8 380.8L514.6 381.0L515.3 381.1L516.1 381.3L516.9 381.4L517.7 381.5L518.5 381.7L519.3 381.8L520.0 382.0L520.8 382.1L521.6 382.2L522.4 382.4L523.2 382.5L524.0 382.7L524.8 383.0L525.5 383.2L526.3 383.5L527.1 383.7L527.9 383.8L528.7 383.9L529.5 384.1L530.3 384.3L531.2 384.4L532.0 384.6L532.8 384.7L533.6 384.9L534.4 385.1L535.3 385.2L536.1 385.4L536.9 385.5L537.7 385.6L538.5 385.6L539.4 385.7L540.2 385.8L541.0 385.9L541.8 386.0L542.6 386.1L543.4 386.2L544.3 386.3L545.1 386.5L545.9 386.7L546.7 386.8L547.5 387.0L548.3 387.2L549.1 387.3L549.9 387.5L550.7 387.8L551.5 388.0L552.3 388.3L553.0 388.5L553.8 388.7L554.6 389.0L555.4 389.2L556.2 389.6L557.0 389.9L557.7 390.2L558.5 390.4L559.3 390.6L560.1 390.9L560.9 391.2L561.6 391.4L562.4 391.7L563.2 391.9L564.0 392.2L564.8 392.5L565.6 392.7L566.3 392.9L567.1 393.2L567.9 393.4L568.7 393.7L569.5 394.0L570.3 394.3L571.1 394.5L571.9 394.8L572.6 395.1L573.4 395.3L574.2 395.6L575.0 395.8L575.8 396.2L576.5 396.5L577.3 396.8L578.1 397.1L578.8 397.4L579.6 397.7L580.3 398.0L581.1 398.3L581.8 398.6L582.5 399.0L583.3 399.4L584.0 399.7L584.7 400.1L585.4 400.4L586.1 400.8L586.9 401.2L587.6 401.6L588.3 402.0L589.0 402.3L589.7 402.6L590.4 402.9L591.1 403.3L591.9 403.7L592.6 404.0L593.3 404.4L594.0 404.7L594.7 405.0L595.5 405.3L596.2 405.6L597.0 406.0L597.7 406.3L598.4 406.6L599.2 406.8L600.0 407.1L600.8 407.3L601.6 407.6L602.4 407.9L603.2 408.2L604.0 408.5L604.8 408.7L605.7 408.9L606.5 409.1L607.3 409.2L608.1 409.4L609.0 409.6L609.8 409.7L610.6 409.8L611.5 409.9L612.3 410.0L613.1 410.0L614.0 410.0L614.8 410.1L615.6 410.1L616.4 410.1L617.2 410.1L618.0 410.1L618.9 410.0L619.7 409.9L620.5 409.7L621.3 409.6L622.1 409.4L622.9 409.2L623.7 409.1L624.5 408.9L625.3 408.8L626.1 408.6L626.9 408.5L627.7 408.3L628.5 408.2L629.3 408.1L630.1 407.9L630.9 407.6L631.7 407.4L632.5 407.1L633.3 406.8L634.0 406.5L634.8 406.2L635.6 405.9L636.4 405.7L637.2 405.4L637.9 405.2L638.7 404.9L639.5 404.7L640.3 404.4L641.1 404.2L641.8 404.0L642.6 403.8L643.4 403.5L644.2 403.2L645.0 403.0L645.8 402.8L646.6 402.5L647.4 402.3L648.2 402.0L649.0 401.8L649.8 401.5L650.6 401.3L651.4 401.0L652.2 400.8L652.9 400.5L653.7 400.3L654.5 400.1L655.3 399.9L656.1 399.6L656.9 399.4L657.7 399.2L658.6 399.0L659.4 398.9L660.2 398.7L661.0 398.5L661.8 398.3L662.6 398.1L663.4 398.0L664.3 397.9L665.1 397.8L665.9 397.7L666.7 397.6L667.5 397.5L668.4 397.3L669.2 397.3L670.0 397.2L670.9 397.1L671.7 397.0L672.5 396.9L673.4 396.8L674.2 396.7L675.0 396.7L675.8 396.7L676.7 396.7L677.5 396.7L678.3 396.7L679.1 396.9L679.9 397.1L680.7 397.5L681.5 397.8L682.2 398.2L682.9 398.7L683.7 399.1L684.3 399.5L685.0 400.0L685.6 400.5L686.3 401.1L686.8 401.7L687.4 402.2L688.0 402.8L688.5 403.5L689.0 404.2L689.5 404.9L689.9 405.7L690.4 406.4L690.8 407.2L691.2 407.9L691.7 408.7L692.1 409.4L692.4 410.2L692.8 410.9L693.1 411.7L693.4 412.6L693.7 413.4L694.0 414.3L694.3 415.1L694.5 416.0L694.7 416.8L694.9 417.6L695.1 418.4L695.2 419.2L695.4 420.0L695.5 420.9L695.6 421.7L695.7 422.5L695.8 423.3L696.0 424.1L696.1 425.0L696.2 425.9L696.3 426.7L696.4 427.6L696.5 428.4L696.6 429.3L696.7 430.1L696.8 431.0L696.9 431.8L697.1 432.6L697.2 433.4L697.3 434.2L697.4 434.9L697.5 435.7L697.6 436.5L697.8 437.3L697.9 438.0L698.0 438.8L698.1 439.6L698.2 440.5L698.3 441.3L698.4 442.1L698.6 442.8L698.7 443.6L698.8 444.4L698.9 445.2L699.0 446.0L699.1 446.9L699.2 447.7L699.3 448.5L699.4 449.3L699.5 450.1L699.6 450.9L699.7 451.8L699.8 452.7L699.9 453.6L700.0 454.5L700.1 455.3L700.2 456.1L700.3 456.9L700.3 457.7L700.4 458.5L700.5 459.3L700.6 460.1L700.7 460.9L700.8 461.7L700.9 462.5L700.9 463.4L701.0 464.2L701.1 465.0L701.2 465.7L701.3 466.5L701.3 467.3L701.4 468.1L701.5 469.0L701.6 469.9L701.6 470.8L701.7 471.6L701.8 472.5L701.8 473.4L701.9 474.3L702.0 475.2L702.0 476.0L702.1 476.8L702.1 477.6L702.2 478.4L702.3 479.2L702.3 479.9L702.4 480.7L702.4 481.5L702.5 482.3L702.5 483.0L702.6 483.8L702.6 484.5L702.7 485.3L702.7 486.1L702.8 486.9L702.8 487.7L702.9 488.6L702.9 489.4L703.0 490.1L703.0 490.9L703.1 491.7L703.1 492.5L703.2 493.3L703.2 494.1L703.3 494.9L703.3 495.7L703.4 496.5L703.4 497.3L703.4 498.1L703.5 498.9L703.5 499.8L703.6 500.6" stroke="#56B4E9" stroke-width="6.0"/>
<path d="M138.8 500.5L138.8 499.7L138.8 498.9L138.9 498.1L138.9 497.3L138.9 496.5L138.9 495.7L138.9 494.9L138.9 494.1L139.0 493.3L139.0 492.5L139.0 491.7L139.0 490.9L139.0 490.0L139.0 489.2L139.1 488.4L139.1 487.6L139.1 486.8L139.1 486.0L139.1 485.2L139.1 484.4L139.1 483.6L139.2 482.8L139.2 482.0L139.2 481.2L139.2 480.4L139.2 479.6L139.2 478.8L139.3 478.0L139.3 477.2L139.3 476.4L139.3 475.6L139.3 474.8L139.3 474.0L139.4 473.2L139.4 472.4L139.4 471.6L139.4 470.8L139.4 469.9L139.4 469.1L139.4 468.3L139.5 467.5L139.5 466.7L139.5 465.9L139.5 465.1L139.5 464.3L139.5 463.5L139.6 462.7L139.6 461.9L139.6 461.1L139.6 460.3L139.6 459.5L139.6 458.7L139.6 457.9L139.7 457.1L139.7 456.3L139.7 455.5L139.7 454.7L139.7 453.9L139.7 453.1L139.8 452.3L139.8 451.5L139.8 450.6L139.8 449.8L139.8 449.0L139.8 448.2L139.9 447.4L139.9 446.6L139.9 445.8L139.9 445.0L139.9 444.2L139.9 443.4L139.9 442.6L140.0 441.8L140.0 441.0L140.0 440.2L140.0 439.4L140.0 438.6L140.1 437.8L140.1 437.0L140.1 436.2L140.1 435.4L140.1 434.6L140.1 433.8L140.2 433.0L140.2 432.2L140.2 431.4L140.2 430.5L140.2 429.7L140.2 428.9L140.3 428.1L140.3 427.3L140.3 426.5L140.3 425.7L140.3 424.9L140.4 424.1L140.4 423.3L140.4 422.5L140.4 421.7L140.4 420.9L140.5 420.1L140.5 419.3L140.5 418.5L140.5 417.7L140.5 416.9L140.6 416.1L140.6 415.3L140.6 414.5L140.6 413.7L140.6 412.9L140.7 412.1L140.7 411.3L140.7 410.5L140.7 409.6L140.7 408.8L140.8 408.0L140.8 407.2L140.8 406.4L140.8 405.6L140.9 404.8L140.9 404.0L140.9 403.2L140.9 402.4L141.0 401.6L141.0 400.8L141.0 400.0L141.0 399.2L141.0 398.4L141.1 397.6L141.1 396.8L141.1 396.0L141.2 395.2L141.2 394.4L141.2 393.6L141.2 392.8L141.3 392.0L141.3 391.2L141.3 390.4L141.4 389.6L141.4 388.8L141.4 388.0L141.4 387.2L141.5 386.4L141.5 385.6L141.5 384.8L141.6 384.0L141.6 383.2L141.6 382.4L141.7 381.6L141.7 380.8L141.7 380.0L141.8 379.2L141.8 378.4L141.8 377.6L141.9 376.8L141.9 376.0L141.9 375.2L142.0 374.4L142.0 373.6L142.1 372.8L142.1 372.0L142.1 371.2L142.2 370.4L142.2 369.6L142.2 368.8L142.3 368.0L142.3 367.2L142.3 366.4L142.4 365.6L142.4 364.8L142.5 364.0L142.5 363.2L142.5 362.4L142.6 361.6L142.6 360.8L142.7 360.0L142.7 359.2L142.7 358.4L142.8 357.6L142.8 356.8L142.8 356.0L142.9 355.2L142.9 354.4L143.0 353.6L143.0 352.8L143.0 352.0L143.1 351.2L143.1 350.4L143.2 349.6L143.2 348.8L143.2 348.0L143.3 347.2L143.3 346.4L143.4 345.6L143.4 344.8L143.4 344.0L143.5 343.2L143.5 342.4L143.5 341.6L143.6 340.8L143.6 340.0L143.7 339.2L143.7 338.4L143.7 337.6L143.8 336.8L143.8 336.0L143.9 335.2L143.9 334.4L143.9 333.6L144.0 332.8L144.0 332.0L144.1 331.2L144.1 330.4L144.2 329.6L144.2 328.8L144.3 328.0L144.3 327.2L144.4 326.4L144.4 325.6L144.5 324.8L144.5 324.0L144.6 323.2L144.6 322.4L144.7 321.6L144.7 320.8L144.8 320.0L144.9 319.2L144.9 318.4L145.0 317.5L145.0 316.7L145.1 315.9L145.1 315.1L145.2 314.3L145.3 313.4L145.4 312.6L145.5 311.8L145.6 311.0L145.7 310.2L145.9 309.4L146.1 308.6L146.3 307.7L146.6 306.9L146.9 306.1L147.2 305.3L147.5 304.5L147.8 303.7L148.1 302.9L148.5 302.2L148.8 301.4L149.2 300.6L149.6 299.8L149.9 299.1L150.3 298.3L150.7 297.6L151.1 296.9L151.6 296.1L152.0 295.4L152.4 294.7L152.8 294.0L153.2 293.2L153.6 292.5L154.0 291.7L154.4 291.0L154.8 290.3L155.1 289.6L155.5 288.8L155.8 288.1L156.2 287.4L156.5 286.6L156.8 285.9L157.2 285.2L157.5 284.4L157.9 283.7L158.2 283.0L158.5 282.2L158.8 281.5L159.2 280.7L159.5 280.0L159.8 279.2L160.1 278.4L160.4 277.6L160.7 276.8L161.0 276.0L161.3 275.2L161.7 274.5L162.1 273.8L162.6 273.1L163.0 272.4L163.5 271.8L164.0 271.1L164.5 270.5L165.0 269.8L165.5 269.2L166.1 268.6L166.7 268.0L167.4 267.4L168.0 266.8L168.7 266.2L169.4 265.7L170.1 265.1L170.8 264.6L171.4 264.0L172.1 263.4L172.7 262.8L173.3 262.2L173.8 261.5L174.4 260.9L174.9 260.2L175.5 259.5L176.0 258.8L176.5 258.1L177.0 257.4L177.5 256.8L178.1 256.1L178.6 255.4L179.1 254.8L179.6 254.2L180.1 253.5L180.7 252.9L181.2 252.3L181.7 251.7L182.2 251.1L182.8 250.5L183.3 249.9L183.8 249.2L184.3 248.6L184.8 248.0L185.3 247.4L185.8 246.7L186.3 246.0L186.8 245.4L187.3 244.7L187.8 244.0L188.3 243.3L188.8 242.6L189.2 241.9L189.7 241.2L190.2 240.5L190.8 239.9L191.3 239.4L191.8 238.7L192.3 238.0L192.8 237.3L193.4 236.6L193.9 235.9L194.4 235.3L195.0 234.7L195.5 234.3L196.1 233.9L196.7 233.4L197.3 232.7L197.9 232.2L198.6 231.7L199.3 231.2L200.0 230.7L200.8 230.3L201.5 229.9L202.3 229.8L203.1 230.0L203.9 230.2L204.7 230.1L205.5 229.4L206.3 228.6L207.1 228.1L207.8 227.7L208.6 227.5L209.4 227.2L210.2 226.6L210.9 225.9L211.7 225.4L212.5 225.0L213.2 224.7L214.0 224.3L214.8 225.0L215.5 223.9L216.3 223.7L217.1 223.3L217.9 222.9L218.7 222.6L219.4 222.2L220.2 221.7L221.0 221.3L221.8 221.0L222.6 220.8L223.4 220.8L224.2 220.6L224.9 220.0L225.7 219.3L226.4 218.8L227.2 218.7L227.9 218.4L228.6 217.7L229.3 217.0L230.0 216.6L230.7 216.5L231.4 216.5L232.1 216.3L232.8 215.1L233.6 215.4L234.3 215.0L235.0 214.7L235.8 214.4L236.6 214.2L237.3 214.1L238.1 213.8L238.9 213.2L239.7 212.4L240.5 211.8L241.2 211.4L242.0 211.4L242.8 211.6L243.6 211.6L244.4 211.6L245.2 211.6L246.0 211.4L246.9 210.8L247.7 210.0L248.5 209.8L249.2 210.5L249.8 211.6L250.4 212.5L251.0 213.2L251.6 213.7L252.3 214.0L252.9 214.3L253.5 214.7L254.1 215.2L254.8 215.9L255.4 216.7L256.0 217.5L256.6 218.2L257.1 218.9L257.7 219.8L258.2 220.7L258.8 221.4L259.3 222.1L259.9 223.0L260.4 224.0L261.0 224.7L261.6 225.1L262.2 225.5L262.8 225.9L263.5 226.6L264.2 227.2L264.9 227.7L265.7 227.7L266.5 227.3L267.3 227.2L268.1 227.3L268.9 227.5L269.8 227.7L270.6 227.8L271.5 227.8L272.3 228.0L273.2 228.4L274.0 228.7L274.8 228.9L275.7 229.0L276.5 228.9L277.3 229.0L278.1 230.2L279.0 229.0L279.8 228.6L280.6 228.4L281.4 228.5L282.3 228.7L283.1 228.7L283.9 228.7L284.7 228.6L285.6 228.4L286.4 228.1L287.2 228.0L288.0 228.1L288.9 228.2L289.7 228.2L290.5 228.0L291.3 227.9L292.1 227.6L292.9 227.5L293.7 227.5L294.5 227.4L295.3 227.0L296.1 226.9L296.9 226.9L297.7 226.8L298.5 225.8L299.3 226.8L300.1 226.9L300.9 226.9L301.7 226.8L302.5 226.6L303.3 226.5L304.1 227.3L304.9 226.5L305.7 226.2L306.5 225.9L307.3 225.9L308.1 226.0L308.9 226.1L309.7 225.9L310.5 225.7L311.3 225.6L312.1 225.3L312.9 224.9L313.7 224.5L314.5 224.4L315.3 224.5L316.1 224.4L316.9 224.3L317.7 224.3L318.5 224.1L319.3 223.9L320.1 223.8L320.9 223.7L321.7 223.4L322.5 223.1L323.3 222.9L324.1 222.8L324.9 222.7L325.7 222.5L326.6 222.3L327.4 222.2L328.3 222.0L329.1 221.8L330.0 221.8L330.8 222.0L331.7 222.2L332.5 222.1L333.3 222.0L334.1 221.9L334.9 221.8L335.7 221.8L336.6 222.0L337.4 222.3L338.2 222.6L339.0 223.0L339.8 223.4L340.6 223.7L341.4 223.7L342.3 223.8L343.1 224.2L343.9 224.8L344.7 225.3L345.5 225.6L346.3 225.6L347.1 225.5L348.0 225.4L348.8 225.5L349.6 225.6L350.4 225.8L351.2 225.9L352.0 226.1L352.9 226.2L353.7 226.3L354.5 226.6L355.3 226.9L356.1 227.2L356.9 227.4L357.8 227.5L358.6 227.7L359.4 227.9L360.2 228.1L361.0 228.0L361.8 228.0L362.7 228.1L363.5 228.2L364.3 228.5L365.1 228.7L365.9 228.9L366.7 229.2L367.6 229.5L368.4 229.5L369.2 229.4L370.0 229.2L370.8 229.2L371.6 229.2L372.5 229.1L373.3 229.0L374.1 229.0L374.9 229.1L375.7 229.3L376.5 229.7L377.4 230.3L378.2 230.9L379.0 231.1L379.8 231.1L380.6 231.0L381.4 231.0L382.3 231.2L383.1 231.4L383.9 231.5L384.7 231.5L385.5 231.5L386.3 231.6L387.2 231.7L388.0 231.8L388.8 231.9L389.6 232.0L390.4 232.0L391.2 231.8L392.0 231.7L392.9 231.7L393.7 231.8L394.5 231.9L395.3 231.9L396.1 232.0L396.9 232.1L397.7 232.3L398.6 232.6L399.4 232.9L400.2 233.1L401.0 233.3L401.8 233.3L402.6 233.4L403.4 233.5L404.3 233.6L405.1 233.8L405.9 233.9L406.7 234.0L407.5 234.1L408.3 234.3L409.1 234.6L409.9 234.8L410.8 234.8L411.6 234.7L412.4 234.6L413.2 234.6L414.0 234.7L414.9 234.7L415.7 234.8L416.5 235.0L417.3 235.2L418.1 235.3L418.9 235.4L419.8 235.6L420.6 235.8L421.4 236.0L422.2 236.1L423.0 236.2L423.8 236.5L424.6 237.0L425.5 237.5L426.3 237.8L427.1 238.0L427.9 238.2L428.7 238.4L429.5 238.4L430.3 238.5L431.0 238.6L431.8 238.8L432.6 239.0L433.4 239.2L434.2 239.4L435.0 239.6L435.7 239.7L436.5 239.9L437.3 240.1L438.1 240.3L438.9 240.7L439.7 241.1L440.4 241.6L441.2 242.0L442.0 242.4L442.8 242.6L443.6 242.8L444.4 242.8L445.1 242.7L445.9 242.7L446.7 242.6L447.5 242.8L448.3 243.0L449.1 243.1L449.9 243.3L450.8 243.6L451.6 243.9L452.4 244.1L453.2 244.2L454.0 244.3L454.8 244.4L455.7 244.6L456.5 244.7L457.3 244.8L458.1 244.8L458.9 245.0L459.8 245.2L460.6 245.5L461.4 245.7L462.2 245.9L463.0 246.1L463.9 246.4L464.7 246.5L465.5 246.6L466.3 246.8L467.1 246.9L467.9 246.9L468.7 247.0L469.5 247.1L470.3 247.4L471.1 247.8L471.9 248.0L472.7 248.1L473.5 248.4L474.3 248.7L475.1 249.1L475.9 249.4L476.7 249.7L477.5 249.9L478.4 250.1L479.2 250.2L480.0 250.4L480.8 250.6L481.6 250.7L482.4 250.9L483.2 250.9L484.1 251.0L484.9 251.1L485.7 251.3L486.5 251.4L487.3 251.5L488.1 251.6L489.0 251.8L489.8 251.9L490.6 252.0L491.4 252.1L492.2 252.3L493.1 252.4L493.9 252.5L494.7 252.6L495.5 252.6L496.3 252.7L497.1 252.7L498.0 252.8L498.8 252.9L499.6 252.9L500.4 253.0L501.2 253.1L502.1 253.1L502.9 253.2L503.7 253.3L504.5 253.5L505.3 253.5L506.1 253.6L507.0 253.6L507.8 253.7L508.6 253.9L509.4 254.0L510.2 254.1L511.0 254.3L511.9 254.4L512.7 254.5L513.5 254.6L514.3 254.7L515.1 254.8L515.9 254.9L516.8 255.0L517.6 255.1L518.4 255.3L519.2 255.5L520.0 255.6L520.8 255.8L521.7 255.9L522.5 256.1L523.3 256.2L524.1 256.4L524.9 256.6L525.8 256.9L526.6 257.1L527.4 257.3L528.2 257.4L529.0 257.5L529.8 257.6L530.6 257.7L531.5 257.9L532.3 258.1L533.1 258.2L533.9 258.3L534.7 258.5L535.5 258.6L536.4 258.8L537.2 258.9L538.0 259.1L538.8 259.3L539.6 259.5L540.4 259.6L541.2 259.8L542.1 259.9L542.9 260.1L543.7 260.3L544.5 260.5L545.3 260.7L546.1 260.8L546.9 260.9L547.8 261.0L548.6 261.1L549.4 261.2L550.2 261.4L551.0 261.4L551.8 261.5L552.6 261.7L553.5 261.8L554.3 262.0L555.1 262.1L555.9 262.3L556.7 262.5L557.5 262.8L558.3 263.0L559.1 263.3L559.9 263.5L560.7 263.8L561.5 264.0L562.3 264.2L563.0 264.4L563.8 264.7L564.6 264.9L565.4 265.2L566.2 265.5L567.0 265.7L567.8 266.0L568.5 266.3L569.3 266.5L570.1 266.8L570.9 267.0L571.7 267.3L572.4 267.5L573.2 267.6L574.0 267.8L574.8 268.0L575.6 268.2L576.3 268.4L577.1 268.6L577.9 268.9L578.7 269.1L579.5 269.4L580.3 269.7L581.0 270.0L581.8 270.4L582.6 270.8L583.4 271.1L584.2 271.4L584.9 271.7L585.7 272.0L586.5 272.3L587.3 272.6L588.1 272.9L588.8 273.2L589.6 273.5L590.4 273.8L591.2 274.1L592.0 274.4L592.8 274.7L593.5 274.9L594.3 275.2L595.1 275.4L595.9 275.6L596.7 275.9L597.5 276.1L598.3 276.4L599.0 276.7L599.8 276.9L600.6 277.1L601.4 277.3L602.2 277.5L602.9 277.7L603.7 277.9L604.5 278.1L605.3 278.2L606.1 278.4L606.9 278.5L607.7 278.7L608.4 278.8L609.2 278.9L610.0 279.0L610.8 279.0L611.6 279.1L612.4 279.1L613.2 279.1L614.0 279.1L614.9 279.2L615.7 279.2L616.5 279.4L617.4 279.5L618.2 279.6L619.0 279.7L619.9 279.7L620.7 279.7L621.6 279.6L622.4 279.6L623.2 279.6L624.1 279.7L624.9 279.8L625.7 279.8L626.6 279.8L627.4 279.7L628.2 279.7L629.0 279.6L629.8 279.5L630.7 279.3L631.5 279.2L632.3 279.0L633.1 278.8L633.9 278.6L634.8 278.4L635.6 278.3L636.4 278.1L637.2 277.9L638.0 277.6L638.8 277.4L639.6 277.2L640.4 276.9L641.2 276.7L642.0 276.5L642.8 276.2L643.6 276.0L644.3 275.7L645.1 275.4L645.9 275.1L646.7 274.8L647.5 274.6L648.2 274.4L649.0 274.1L649.8 273.8L650.6 273.5L651.3 273.2L652.1 272.9L652.9 272.7L653.7 272.4L654.5 272.1L655.2 271.8L656.0 271.5L656.8 271.3L657.6 271.0L658.4 270.9L659.2 270.7L660.0 270.5L660.8 270.3L661.6 270.2L662.4 270.0L663.2 269.9L664.0 269.7L664.9 269.5L665.7 269.4L666.5 269.2L667.3 269.0L668.1 268.9L668.9 268.7L669.8 268.6L670.6 268.4L671.4 268.2L672.2 268.1L673.0 268.0L673.9 267.9L674.7 267.8L675.5 267.7L676.3 267.6L677.2 267.6L678.0 267.5L678.8 267.4L679.6 267.3L680.5 267.2L681.3 267.2L682.1 267.2L683.0 267.2L683.8 267.2L684.6 267.1L685.5 267.1L686.3 267.1L687.2 267.1L688.0 267.1L688.8 267.1L689.7 267.0L690.5 266.9L691.5 266.7L692.5 266.5L693.4 266.3L694.4 266.1L694.5 266.9L694.7 267.7L694.8 268.5L694.9 269.4L695.1 270.2L695.2 271.0L695.3 271.8L695.5 272.6L695.6 273.5L695.7 274.4L695.9 275.2L696.0 276.0L696.2 276.8L696.3 277.6L696.4 278.4L696.6 279.2L696.7 280.1L696.8 280.9L697.0 281.7L697.1 282.6L697.2 283.4L697.3 284.3L697.5 285.2L697.6 286.0L697.7 286.8L697.8 287.6L698.0 288.4L698.1 289.2L698.2 290.0L698.3 290.8L698.4 291.5L698.5 292.3L698.6 293.0L698.7 293.8L698.9 294.6L699.0 295.4L699.1 296.2L699.2 297.0L699.3 297.8L699.4 298.7L699.5 299.4L699.6 300.2L699.7 301.0L699.8 301.8L699.9 302.6L700.0 303.4L700.1 304.2L700.2 305.0L700.3 305.8L700.3 306.5L700.4 307.3L700.5 308.1L700.6 308.9L700.7 309.7L700.8 310.5L700.9 311.3L701.0 312.1L701.1 312.9L701.2 313.8L701.3 314.6L701.4 315.4L701.5 316.3L701.6 317.1L701.7 317.9L701.8 318.7L701.9 319.5L702.0 320.3L702.1 321.1L702.2 321.8L702.3 322.6L702.4 323.4L702.5 324.1L702.6 324.8L702.7 325.5L702.8 326.3L702.8 327.2L702.9 328.1L703.0 328.9L703.1 329.7L703.2 330.4L703.3 331.2L703.4 332.0L703.5 332.9L703.6 333.7L703.7 334.5L703.8 335.3L703.9 336.1L704.0 336.9L704.1 337.7L704.2 338.6L704.3 339.4L704.4 340.1L704.5 340.9L704.6 341.7L704.7 342.5L704.8 343.3L704.9 344.1L705.0 344.9L705.1 345.7L705.2 346.5L705.4 347.3L705.5 348.1L705.6 348.9L705.7 349.6L705.9 350.3L706.0 351.1L706.2 351.9L706.3 352.7L706.5 353.5L706.6 354.3L706.8 355.1L707.0 355.9L707.1 356.7L707.3 357.5L707.5 358.3L707.6 359.1L707.8 359.9L708.0 360.7L708.2 361.4L708.3 362.2L708.5 362.9L708.7 363.7L708.9 364.6L709.0 365.4L709.2 366.2L709.4 367.0L709.5 367.8L709.7 368.5L709.8 369.3L710.0 370.0L710.1 370.8L710.3 371.6L710.4 372.4L710.6 373.1L710.7 373.9L710.9 374.6L711.0 375.5L711.2 376.3L711.3 377.0L711.5 377.8L711.6 378.6L711.7 379.5L711.9 380.3L712.0 381.1L712.2 381.8L712.3 382.6L712.4 383.4L712.6 384.2L712.7 385.0L712.8 385.8L713.0 386.5L713.1 387.3L713.2 388.2L713.4 389.1L713.5 389.9L713.6 390.7L713.8 391.5L713.9 392.3L714.0 393.1L714.1 393.9L714.3 394.7L714.4 395.5L714.5 396.3L714.6 397.1L714.8 397.9L714.9 398.6L715.0 399.4L715.1 400.2L715.2 401.0L715.4 401.8L715.5 402.7L715.6 403.5L715.7 404.4L715.8 405.2L715.9 406.0L716.0 406.8L716.2 407.5L716.3 408.3L716.4 409.1L716.5 409.9L716.6 410.6L716.7 411.4L716.8 412.2L716.9 413.0L717.0 413.7L717.2 414.5L717.3 415.4L717.4 416.2L717.5 417.0L717.6 417.9L717.7 418.7L717.8 419.6L717.9 420.3L718.0 421.1L718.1 421.9L718.3 422.6L718.4 423.4L718.5 424.1L718.6 424.9L718.7 425.7L718.8 426.5L718.9 427.4L719.1 428.2L719.2 429.0L719.3 429.8L719.4 430.6L719.5 431.5L719.6 432.3L719.7 433.1L719.9 433.9L720.0 434.7L720.1 435.5L720.2 436.3L720.4 437.2L720.5 438.0L720.6 438.8L720.8 439.7L720.9 440.6L721.1 441.5L721.2 442.3L721.4 443.2L721.6 444.0L721.8 444.8L722.0 445.6L722.3 446.4L722.6 447.1L722.9 447.9L723.2 448.7L723.5 449.4L723.9 450.1L724.3 450.9L724.7 451.6L725.1 452.3L725.6 453.0L726.1 453.6L726.6 454.3L727.2 454.9L727.8 455.5L728.5 456.0L729.2 456.5L729.8 456.9L730.6 457.3L731.3 457.7L732.0 458.0L732.8 458.3L733.5 458.7L734.3 459.0L735.1 459.3L735.9 459.6L736.7 459.8L737.5 460.0L738.3 460.1L739.1 460.3L739.9 460.5L740.7 460.8L741.5 461.1L742.3 461.3L743.1 461.6L743.9 461.8L744.6 462.1L745.4 462.4L746.2 462.8L747.0 463.1L747.7 463.4L748.5 463.6L749.3 463.9L750.1 464.2L750.9 464.4L751.6 464.6L752.4 464.8L753.2 465.1L754.0 465.3L754.8 465.5L755.6 465.7L756.3 465.9L757.1 466.1L757.9 466.3L758.7 466.4L759.5 466.6L760.3 466.7L761.1 466.8L761.8 467.0L762.6 467.1L763.4 467.2L764.2 467.4L765.0 467.6" stroke="#009E73" stroke-width="6.0"/>
<path d="M247 208.2L249.3 201.6L250.9 210Z" fill="#009E73" stroke="none"/>
<path d="M139.5 500.5L139.5 499.7L139.5 498.9L139.6 498.1L139.6 497.3L139.6 496.5L139.6 495.7L139.6 494.9L139.7 494.1L139.7 493.3L139.7 492.5L139.7 491.7L139.7 490.9L139.8 490.0L139.8 489.2L139.8 488.4L139.8 487.6L139.8 486.8L139.9 486.0L139.9 485.2L139.9 484.4L139.9 483.6L139.9 482.8L140.0 482.0L140.0 481.2L140.0 480.4L140.0 479.6L140.0 478.8L140.1 478.0L140.1 477.2L140.1 476.4L140.1 475.6L140.1 474.8L140.2 474.0L140.2 473.2L140.2 472.4L140.2 471.6L140.2 470.8L140.3 469.9L140.3 469.1L140.3 468.3L140.3 467.5L140.3 466.7L140.4 465.9L140.4 465.1L140.4 464.3L140.4 463.5L140.4 462.7L140.5 461.9L140.5 461.1L140.5 460.3L140.5 459.5L140.5 458.7L140.6 457.9L140.6 457.1L140.6 456.3L140.6 455.5L140.6 454.7L140.6 453.9L140.7 453.1L140.7 452.3L140.7 451.5L140.7 450.7L140.7 449.8L140.8 449.0L140.8 448.2L140.8 447.4L140.8 446.6L140.8 445.8L140.9 445.0L140.9 444.2L140.9 443.4L140.9 442.6L140.9 441.8L141.0 441.0L141.0 440.2L141.0 439.4L141.0 438.6L141.0 437.8L141.1 437.0L141.1 436.2L141.1 435.4L141.1 434.6L141.1 433.8L141.2 433.0L141.2 432.2L141.2 431.4L141.2 430.6L141.2 429.7L141.3 428.9L141.3 428.1L141.3 427.3L141.3 426.5L141.3 425.7L141.4 424.9L141.4 424.1L141.4 423.3L141.4 422.5L141.4 421.7L141.5 420.9L141.5 420.1L141.5 419.3L141.5 418.5L141.5 417.7L141.6 416.9L141.6 416.1L141.6 415.3L141.6 414.5L141.7 413.7L141.7 412.9L141.7 412.1L141.7 411.3L141.7 410.5L141.8 409.6L141.8 408.8L141.8 408.0L141.8 407.2L141.8 406.4L141.9 405.6L141.9 404.8L141.9 404.0L141.9 403.2L141.9 402.4L142.0 401.6L142.0 400.8L142.0 400.0L142.0 399.2L142.0 398.4L142.1 397.6L142.1 396.7L142.1 395.9L142.1 395.1L142.1 394.3L142.2 393.5L142.2 392.7L142.2 391.9L142.2 391.0L142.2 390.2L142.3 389.4L142.3 388.6L142.3 387.8L142.3 387.0L142.3 386.2L142.4 385.3L142.4 384.5L142.4 383.7L142.4 382.9L142.5 382.1L142.5 381.3L142.5 380.5L142.5 379.6L142.5 378.8L142.6 378.0L142.6 377.2L142.6 376.4L142.6 375.6L142.7 374.8L142.7 374.0L142.7 373.1L142.7 372.3L142.8 371.5L142.8 370.7L142.8 369.9L142.9 369.1L142.9 368.3L142.9 367.4L142.9 366.6L143.0 365.8L143.0 365.0L143.0 364.2L143.1 363.4L143.1 362.6L143.1 361.8L143.1 361.0L143.2 360.2L143.2 359.4L143.2 358.6L143.2 357.7L143.3 356.9L143.3 356.1L143.3 355.3L143.4 354.5L143.4 353.7L143.4 352.9L143.5 352.1L143.5 351.3L143.6 350.5L143.7 349.7L143.7 348.9L143.8 348.1L143.9 347.3L144.0 346.5L144.1 345.7L144.3 344.8L144.5 343.9L144.9 343.0L145.3 342.2L145.8 341.4L146.3 340.6L146.9 339.8L147.6 339.1L148.3 338.4L149.1 337.9L150.0 337.6L150.8 337.5L151.6 337.6L152.5 337.8L153.3 338.1L154.1 338.3L155.0 338.4L155.8 338.4L156.6 338.2L157.4 337.8L158.2 337.4L158.9 336.8L159.5 336.2L160.0 335.6L160.5 335.0L161.0 334.3L161.5 333.7L161.9 333.0L162.3 332.3L162.7 331.6L163.1 330.9L163.5 330.2L163.9 329.5L164.3 328.8L164.6 328.1L165.0 327.3L165.3 326.6L165.7 325.9L166.0 325.1L166.3 324.4L166.6 323.7L167.0 322.9L167.3 322.2L167.6 321.5L168.0 320.7L168.3 320.0L168.7 319.2L169.1 318.5L169.5 317.7L169.9 316.9L170.3 316.2L170.7 315.4L171.1 314.6L171.5 313.9L171.9 313.1L172.3 312.4L172.7 311.6L173.1 310.8L173.5 310.1L174.0 309.3L174.4 308.6L174.9 307.9L175.3 307.1L175.7 306.4L176.2 305.6L176.6 304.9L177.0 304.1L177.4 303.3L177.8 302.6L178.2 301.8L178.6 301.0L179.0 300.3L179.4 299.5L179.8 298.7L180.2 297.9L180.5 297.2L180.9 296.4L181.3 295.6L181.6 294.9L182.0 294.1L182.3 293.4L182.6 292.7L182.9 291.9L183.3 291.2L183.6 290.4L183.9 289.7L184.2 289.0L184.6 288.2L184.9 287.5L185.3 286.8L185.7 286.0L186.2 285.3L186.6 284.5L187.1 283.8L187.6 283.0L188.1 282.3L188.5 281.6L189.0 280.8L189.4 280.1L189.8 279.4L190.2 278.7L190.6 278.0L191.0 277.3L191.4 276.6L191.8 275.9L192.2 275.1L192.5 274.4L192.9 273.7L193.3 273.0L193.7 272.3L194.1 271.5L194.5 270.8L194.9 270.0L195.3 269.3L195.7 268.5L196.1 267.8L196.5 267.0L196.9 266.3L197.4 265.5L197.8 264.8L198.2 264.0L198.6 263.2L199.0 262.5L199.4 261.8L199.8 261.1L200.2 260.4L200.5 259.7L200.9 259.0L201.3 258.3L201.7 257.6L202.1 256.9L202.5 256.2L202.9 255.5L203.3 254.8L203.7 254.1L204.1 253.4L204.5 252.8L205.0 252.1L205.5 251.5L206.0 250.9L206.6 250.3L207.1 249.7L207.7 249.2L208.3 248.6L208.9 248.1L209.5 247.5L210.1 246.9L210.7 246.4L211.2 245.8L211.8 245.2L212.4 244.7L213.0 244.1L213.6 243.6L214.2 243.0L214.8 242.5L215.4 242.0L216.1 241.4L216.7 240.9L217.4 240.4L218.0 239.9L218.7 239.3L219.3 238.8L220.0 238.4L220.7 238.1L221.3 237.7L222.0 237.2L222.7 236.7L223.3 236.1L224.0 235.6L224.6 235.3L225.2 234.9L225.8 234.3L226.3 233.3L226.9 232.3L227.4 231.0L227.9 231.5L228.4 231.1L228.9 230.5L229.4 229.7L229.9 228.7L230.4 227.6L230.9 226.7L231.4 226.0L232.0 225.4L232.5 224.8L233.1 224.3L233.7 223.7L234.3 223.3L234.9 222.8L235.6 222.2L236.2 221.2L236.9 220.6L237.6 220.5L238.4 220.6L239.1 220.7L239.8 220.6L240.6 220.4L241.3 219.9L242.1 219.4L242.8 218.9L243.6 218.3L244.4 217.9L245.2 217.6L246.0 217.4L246.8 217.2L247.6 216.8L248.4 216.5L249.3 216.3L250.1 216.3L250.9 216.3L251.7 216.4L252.5 218.1L253.3 217.0L254.1 217.5L254.9 217.9L255.7 218.3L256.6 218.7L257.5 219.0L258.3 219.1L259.2 219.2L260.0 219.6L260.7 220.1L261.4 220.3L262.1 220.3L262.7 220.3L263.4 220.6L264.0 221.2L264.7 221.8L265.4 222.2L266.1 222.4L266.8 222.9L267.6 223.4L268.5 223.8L269.3 223.9L270.2 223.9L271.1 224.0L272.0 224.1L272.9 224.3L273.7 224.4L274.6 224.2L275.4 223.7L276.2 223.1L277.1 222.7L277.9 222.6L278.7 222.5L279.5 222.5L280.3 222.4L281.1 222.1L281.9 221.8L282.6 221.5L283.4 221.3L284.2 221.2L285.0 221.1L285.8 220.9L286.6 220.6L287.3 220.2L288.1 219.8L288.9 219.3L289.7 219.0L290.5 218.8L291.2 218.6L292.0 218.2L292.8 217.7L293.5 217.4L294.3 217.1L295.0 216.9L295.8 216.6L296.6 216.3L297.3 216.1L298.1 215.7L298.9 215.4L299.6 215.3L300.4 215.1L301.1 214.8L301.9 214.6L302.7 214.5L303.4 214.3L304.2 213.9L305.0 213.7L305.8 213.6L306.5 213.4L307.3 213.1L308.1 212.8L308.9 212.7L309.7 212.5L310.5 212.4L311.3 212.2L312.1 212.1L312.9 211.8L313.7 211.6L314.5 211.5L315.3 211.7L316.1 211.8L316.9 211.6L317.7 211.0L318.5 210.5L319.3 210.1L320.1 209.9L320.9 209.9L321.7 209.9L322.5 209.6L323.3 209.2L324.1 208.9L324.9 208.9L325.7 208.7L326.6 208.5L327.4 208.2L328.3 207.9L329.1 207.9L330.0 207.8L330.8 207.7L331.6 207.6L332.4 207.5L333.3 207.5L334.1 207.4L334.9 207.2L335.7 207.0L336.5 206.8L337.3 206.7L338.2 206.7L339.0 206.7L339.8 206.6L340.6 206.5L341.4 206.4L342.2 206.4L343.1 206.5L343.9 206.5L344.7 206.4L345.5 206.2L346.3 205.9L347.1 205.8L348.0 205.8L348.8 205.8L349.6 205.8L350.4 205.8L351.2 205.8L352.0 205.5L352.9 205.4L353.7 205.6L354.5 205.9L355.3 206.0L356.1 205.8L356.9 205.5L357.8 205.4L358.6 205.4L359.4 205.6L360.2 205.8L361.0 206.0L361.9 206.2L362.7 206.2L363.5 206.1L364.3 206.0L365.1 205.9L365.9 205.6L366.8 205.4L367.6 205.3L368.4 205.2L369.2 205.2L370.0 205.2L370.8 205.3L371.7 205.5L372.5 205.8L373.3 205.9L374.1 205.9L374.9 205.6L375.7 205.3L376.6 205.1L377.4 205.0L378.2 205.2L379.0 205.5L379.8 205.7L380.6 205.7L381.5 205.4L382.3 205.2L383.1 205.2L383.9 205.2L384.7 205.2L385.5 205.1L386.3 205.0L387.2 204.7L388.0 204.4L388.8 204.1L389.6 203.8L390.5 203.5L391.3 203.3L392.2 203.1L393.0 203.0L393.9 202.9L394.7 202.9L395.6 203.0L396.4 203.0L397.3 203.0L398.1 203.0L399.0 203.0L399.8 203.0L400.7 203.2L401.5 203.4L402.3 203.4L403.1 203.2L403.9 203.0L404.7 203.0L405.5 203.1L406.4 203.1L407.2 203.1L408.0 203.2L408.8 203.2L409.6 203.3L410.4 203.4L411.2 203.4L412.0 203.4L412.8 203.4L413.6 203.4L414.4 203.2L415.3 203.1L416.1 203.2L416.9 203.3L417.7 203.3L418.5 203.3L419.3 203.4L420.1 203.6L420.9 203.8L421.7 203.8L422.6 203.9L423.4 204.0L424.2 204.2L425.0 204.4L425.8 204.7L426.6 204.8L427.5 205.0L428.3 205.0L429.1 205.1L429.9 205.2L430.7 205.2L431.5 205.2L432.4 205.1L433.2 205.0L434.0 205.1L434.8 205.2L435.6 205.4L436.4 205.5L437.3 205.5L438.1 205.5L438.9 205.6L439.7 205.8L440.5 205.9L441.3 206.1L442.2 206.2L443.0 206.4L443.8 206.7L444.6 206.8L445.4 206.9L446.2 207.0L447.1 207.2L447.9 207.4L448.7 207.4L449.5 207.4L450.3 207.3L451.1 207.2L452.0 207.3L452.8 207.5L453.6 207.7L454.4 207.9L455.2 208.0L456.0 208.2L456.9 208.3L457.7 208.4L458.5 208.4L459.3 208.6L460.1 208.7L460.9 208.8L461.7 208.8L462.5 208.8L463.3 208.9L464.1 209.1L464.9 209.3L465.7 209.5L466.5 209.7L467.3 209.8L468.1 209.9L468.9 210.0L469.7 210.1L470.4 210.2L471.2 210.3L472.0 210.3L472.8 210.4L473.6 210.5L474.4 210.6L475.2 210.7L476.0 210.8L476.8 211.0L477.6 211.1L478.4 211.2L479.2 211.3L480.0 211.3L480.8 211.4L481.6 211.6L482.5 211.7L483.3 211.8L484.1 212.0L484.9 212.1L485.7 212.2L486.5 212.3L487.4 212.5L488.2 212.6L489.0 212.7L489.8 212.8L490.6 212.9L491.4 213.0L492.3 213.2L493.1 213.4L493.9 213.5L494.7 213.6L495.5 213.7L496.3 213.9L497.1 214.0L498.0 214.2L498.8 214.3L499.6 214.4L500.4 214.5L501.2 214.6L502.0 214.6L502.9 214.7L503.7 214.7L504.5 214.8L505.3 214.9L506.1 215.0L506.9 215.0L507.8 215.1L508.6 215.2L509.4 215.3L510.2 215.4L511.0 215.6L511.8 215.7L512.7 215.9L513.5 216.0L514.3 216.1L515.1 216.3L515.9 216.4L516.7 216.6L517.6 216.9L518.4 217.1L519.2 217.2L520.0 217.4L520.8 217.5L521.7 217.7L522.5 217.8L523.3 217.9L524.1 218.1L524.9 218.2L525.7 218.4L526.6 218.5L527.4 218.6L528.2 218.7L529.0 218.8L529.8 218.9L530.6 219.0L531.5 219.1L532.3 219.2L533.1 219.3L533.9 219.3L534.7 219.3L535.5 219.4L536.4 219.5L537.2 219.6L538.0 219.7L538.8 219.8L539.6 220.0L540.4 220.2L541.2 220.3L542.1 220.4L542.9 220.6L543.7 220.7L544.5 220.9L545.3 221.1L546.1 221.3L547.0 221.4L547.8 221.5L548.6 221.6L549.4 221.7L550.2 221.7L551.0 221.8L551.8 221.9L552.7 222.0L553.5 222.2L554.3 222.4L555.1 222.6L555.9 222.7L556.7 222.9L557.5 223.1L558.3 223.4L559.1 223.5L559.9 223.7L560.7 223.8L561.5 223.9L562.3 224.0L563.1 224.2L563.9 224.5L564.6 224.7L565.4 224.9L566.2 225.1L567.0 225.4L567.8 225.7L568.6 225.9L569.4 226.2L570.1 226.4L570.9 226.7L571.7 226.9L572.5 227.2L573.3 227.5L574.0 227.7L574.8 228.0L575.6 228.3L576.4 228.6L577.1 228.8L577.9 229.1L578.7 229.3L579.4 229.6L580.2 229.9L580.9 230.3L581.7 230.5L582.4 230.8L583.2 231.1L583.9 231.4L584.7 231.7L585.4 232.0L586.2 232.3L586.9 232.6L587.7 232.9L588.4 233.2L589.2 233.5L589.9 233.8L590.7 234.1L591.4 234.4L592.2 234.8L592.9 235.1L593.7 235.4L594.4 235.7L595.2 236.0L596.0 236.3L596.7 236.6L597.5 236.8L598.3 237.1L599.0 237.2L599.8 237.5L600.6 237.7L601.4 237.9L602.1 238.0L602.9 238.2L603.7 238.3L604.5 238.4L605.3 238.6L606.1 238.8L606.8 238.9L607.6 239.1L608.4 239.3L609.2 239.5L610.0 239.6L610.8 239.7L611.6 239.9L612.4 240.1L613.2 240.2L614.0 240.4L614.9 240.5L615.7 240.6L616.5 240.6L617.4 240.6L618.2 240.6L619.0 240.6L619.9 240.6L620.7 240.6L621.6 240.6L622.4 240.6L623.2 240.5L624.1 240.4L624.9 240.3L625.7 240.2L626.6 240.1L627.4 240.0L628.2 239.8L629.0 239.7L629.8 239.5L630.7 239.3L631.5 239.2L632.3 239.0L633.1 238.7L633.9 238.5L634.7 238.4L635.5 238.2L636.4 238.0L637.2 237.8L638.0 237.7L638.8 237.5L639.6 237.3L640.4 237.1L641.2 236.9L642.0 236.7L642.7 236.4L643.5 236.2L644.3 236.0L645.1 235.8L645.9 235.6L646.7 235.4L647.4 235.2L648.2 235.0L649.0 234.8L649.8 234.6L650.6 234.4L651.3 234.2L652.1 233.9L652.9 233.7L653.7 233.4L654.5 233.2L655.3 232.9L656.0 232.7L656.8 232.5L657.6 232.3L658.4 232.0L659.2 231.7L660.0 231.5L660.8 231.4L661.6 231.3L662.5 231.2L663.3 231.1L664.1 231.1L664.9 231.0L665.7 230.9L666.5 230.8L667.4 230.6L668.2 230.5L669.0 230.4L669.8 230.2L670.6 230.0L671.4 229.8L672.3 229.7L673.1 229.4L673.9 229.2L674.7 229.0L675.5 228.9L676.4 228.8L677.2 228.8L678.0 228.6L678.8 228.5L679.6 228.3L680.4 228.1L681.1 227.9L681.9 227.7L682.7 227.5L683.5 227.4L684.2 227.1L685.0 226.9L685.8 226.6L686.6 226.4L687.3 226.1L688.1 225.8L688.7 225.2L689.3 224.5L689.9 223.9L690.5 223.3L691.2 222.8L691.8 222.2L692.4 221.7L693.0 221.1L693.6 220.6L693.8 221.4L694.0 222.2L694.1 223.0L694.3 223.8L694.5 224.5L694.7 225.3L694.9 226.0L695.1 226.7L695.3 227.5L695.4 228.3L695.6 229.1L695.8 229.8L696.0 230.6L696.2 231.4L696.4 232.2L696.6 233.0L696.7 233.8L696.9 234.6L697.1 235.3L697.3 236.1L697.5 237.0L697.7 237.8L697.8 238.5L698.0 239.2L698.2 240.0L698.4 240.8L698.5 241.6L698.7 242.4L698.9 243.3L699.0 244.1L699.2 244.8L699.4 245.5L699.5 246.3L699.7 247.1L699.9 247.9L700.0 248.7L700.2 249.5L700.3 250.2L700.5 251.0L700.6 251.7L700.7 252.4L700.9 253.2L701.0 253.9L701.1 254.7L701.3 255.5L701.4 256.3L701.5 257.1L701.7 257.9L701.8 258.7L701.9 259.5L702.1 260.3L702.2 261.1L702.3 261.9L702.4 262.7L702.6 263.5L702.7 264.4L702.8 265.2L702.9 266.0L703.1 266.8L703.2 267.5L703.3 268.4L703.5 269.2L703.6 270.1L703.7 270.9L703.9 271.7L704.0 272.5L704.1 273.3L704.3 274.1L704.4 274.9L704.5 275.7L704.7 276.6L704.8 277.3L704.9 278.1L705.0 278.8L705.2 279.6L705.3 280.3L705.5 281.1L705.6 281.9L705.7 282.7L705.9 283.5L706.0 284.3L706.2 285.1L706.4 286.0L706.5 286.7L706.7 287.5L706.8 288.3L707.0 289.1L707.2 289.9L707.4 290.7L707.5 291.5L707.7 292.3L707.9 293.1L708.0 293.9L708.2 294.7L708.4 295.5L708.6 296.2L708.7 296.9L708.9 297.7L709.1 298.5L709.3 299.3L709.4 300.1L709.6 300.9L709.8 301.7L710.0 302.5L710.1 303.3L710.3 304.1L710.5 305.0L710.7 305.8L710.9 306.6L711.0 307.4L711.2 308.2L711.4 308.9L711.5 309.7L711.7 310.5L711.9 311.2L712.1 312.0L712.2 312.8L712.4 313.6L712.6 314.4L712.8 315.2L712.9 316.0L713.1 316.8L713.3 317.7L713.5 318.5L713.6 319.2L713.8 320.0L714.0 320.7L714.2 321.5L714.3 322.3L714.5 323.1L714.7 323.9L714.9 324.7L715.0 325.5L715.2 326.3L715.4 327.1L715.6 327.8L715.8 328.6L715.9 329.4L716.1 330.1L716.3 330.9L716.5 331.7L716.6 332.4L716.8 333.2L717.0 334.0L717.2 334.8L717.4 335.6L717.5 336.3L717.7 337.1L717.9 337.8L718.1 338.6L718.3 339.4L718.4 340.3L718.6 341.1L718.8 341.8L719.0 342.6L719.1 343.5L719.3 344.3L719.5 345.1L719.7 345.9L719.9 346.7L720.0 347.5L720.2 348.2L720.4 349.0L720.6 349.7L720.7 350.5L720.9 351.2L721.1 351.9L721.3 352.7L721.4 353.4L721.6 354.3L721.8 355.1L722.0 355.8L722.1 356.6L722.3 357.4L722.5 358.2L722.6 359.1L722.8 359.9L723.0 360.7L723.1 361.6L723.3 362.4L723.4 363.3L723.6 364.1L723.7 364.9L723.9 365.8L724.0 366.6L724.2 367.4L724.4 368.2L724.6 369.0L724.8 369.9L725.0 370.8L725.2 371.7L725.5 372.6L725.7 373.5L726.1 374.3L726.4 375.1L726.9 375.8L727.4 376.4L727.9 376.9L728.5 377.4L729.2 377.9L729.9 378.3L730.6 378.6L731.3 379.0L732.0 379.4L732.8 379.8L733.5 380.1L734.3 380.4L735.1 380.7L735.9 380.9L736.7 381.1L737.5 381.4L738.3 381.7L739.1 381.9L739.9 382.2L740.7 382.4L741.5 382.6L742.3 382.8L743.1 382.9L743.9 383.1L744.6 383.3L745.4 383.5L746.2 383.7L747.0 383.8L747.7 384.0L748.5 384.3L749.3 384.5L750.1 384.8L750.9 385.1L751.7 385.3L752.4 385.4L753.2 385.6L754.0 385.8L754.8 386.0L755.6 386.1L756.4 386.2L757.1 386.3L757.9 386.5L758.7 386.7L759.5 386.9L760.3 387.0L761.1 387.2L761.9 387.3L762.6 387.5L763.4 387.7L764.2 388.0L765.0 388.2" stroke="#F0E442" stroke-width="6.0"/>
<path d="M139.8 500.5L139.8 499.7L139.8 498.9L139.9 498.1L139.9 497.3L139.9 496.5L139.9 495.7L139.9 494.9L140.0 494.1L140.0 493.3L140.0 492.5L140.0 491.7L140.0 490.9L140.1 490.1L140.1 489.3L140.1 488.5L140.1 487.7L140.1 486.9L140.1 486.1L140.2 485.3L140.2 484.5L140.2 483.7L140.2 482.9L140.2 482.1L140.3 481.3L140.3 480.5L140.3 479.7L140.3 478.9L140.3 478.1L140.3 477.3L140.4 476.5L140.4 475.7L140.4 474.9L140.4 474.1L140.4 473.3L140.4 472.5L140.5 471.7L140.5 470.9L140.5 470.1L140.5 469.3L140.5 468.5L140.6 467.7L140.6 466.9L140.6 466.1L140.6 465.3L140.6 464.5L140.6 463.7L140.7 462.9L140.7 462.1L140.7 461.3L140.7 460.5L140.7 459.7L140.7 458.9L140.8 458.1L140.8 457.3L140.8 456.5L140.8 455.7L140.8 454.9L140.8 454.1L140.9 453.3L140.9 452.5L140.9 451.7L140.9 450.9L140.9 450.1L140.9 449.3L141.0 448.5L141.0 447.7L141.0 446.8L141.0 446.0L141.0 445.2L141.0 444.4L141.1 443.6L141.1 442.8L141.1 442.0L141.1 441.2L141.1 440.4L141.2 439.6L141.2 438.8L141.2 438.0L141.2 437.2L141.2 436.4L141.2 435.6L141.3 434.8L141.3 434.0L141.3 433.2L141.3 432.4L141.3 431.6L141.4 430.8L141.4 430.0L141.4 429.2L141.4 428.4L141.4 427.6L141.5 426.8L141.5 426.0L141.5 425.2L141.5 424.4L141.5 423.6L141.6 422.8L141.6 422.0L141.6 421.2L141.6 420.4L141.6 419.6L141.7 418.8L141.7 418.0L141.7 417.2L141.7 416.4L141.7 415.6L141.8 414.8L141.8 414.0L141.8 413.2L141.8 412.4L141.8 411.6L141.9 410.8L141.9 410.0L141.9 409.2L141.9 408.4L142.0 407.6L142.0 406.8L142.0 406.0L142.0 405.2L142.1 404.4L142.1 403.6L142.1 402.8L142.1 402.0L142.1 401.2L142.2 400.4L142.2 399.6L142.2 398.8L142.2 398.0L142.3 397.2L142.3 396.4L142.3 395.6L142.4 394.8L142.4 394.0L142.4 393.2L142.4 392.4L142.5 391.6L142.5 390.8L142.5 390.0L142.5 389.2L142.6 388.4L142.6 387.6L142.6 386.8L142.7 386.0L142.7 385.2L142.7 384.4L142.7 383.6L142.8 382.8L142.8 382.0L142.8 381.2L142.9 380.4L142.9 379.6L143.0 378.8L143.1 377.9L143.1 377.1L143.2 376.3L143.3 375.5L143.4 374.7L143.5 373.9L143.6 373.1L143.7 372.3L143.8 371.5L143.9 370.7L144.0 369.9L144.1 369.1L144.3 368.3L144.4 367.5L144.5 366.6L144.6 365.8L144.7 365.0L144.8 364.2L144.8 363.4L144.9 362.6L145.0 361.8L145.1 361.0L145.1 360.1L145.1 359.3L145.1 358.4L145.1 357.5L145.1 356.7L145.1 355.8L145.1 355.0L145.2 354.1L145.2 353.3L145.3 352.5L145.4 351.6L145.6 350.8L145.8 350.0L146.2 349.2L146.6 348.4L147.1 347.7L147.8 347.2L148.5 346.8L149.4 346.8L150.3 347.2L151.3 347.8L152.2 348.3L153.1 348.7L153.9 349.1L154.8 349.5L155.7 349.8L156.6 349.7L157.4 349.4L158.1 349.1L158.7 348.6L159.4 348.1L160.0 347.5L160.6 346.9L161.1 346.3L161.7 345.7L162.3 345.0L162.8 344.4L163.2 343.7L163.7 342.9L164.1 342.2L164.6 341.4L165.0 340.7L165.5 340.0L166.0 339.3L166.4 338.7L166.9 338.0L167.4 337.4L167.8 336.7L168.3 336.0L168.8 335.4L169.3 334.7L169.9 334.1L170.4 333.4L171.0 332.7L171.5 332.1L172.1 331.4L172.6 330.7L173.1 330.0L173.6 329.3L174.0 328.6L174.5 327.9L174.9 327.1L175.3 326.4L175.8 325.7L176.2 325.0L176.6 324.2L177.0 323.5L177.4 322.8L177.9 322.0L178.3 321.3L178.7 320.6L179.2 319.9L179.6 319.2L180.0 318.4L180.4 317.7L180.8 317.0L181.3 316.3L181.7 315.6L182.1 314.8L182.5 314.1L183.0 313.4L183.4 312.7L183.8 312.0L184.3 311.3L184.7 310.5L185.1 309.8L185.5 309.1L186.0 308.4L186.4 307.7L186.8 307.0L187.3 306.2L187.7 305.5L188.2 304.8L188.6 304.1L189.0 303.4L189.5 302.7L189.9 302.0L190.4 301.2L190.8 300.5L191.3 299.8L191.8 299.1L192.2 298.4L192.7 297.7L193.1 297.0L193.6 296.3L194.1 295.6L194.6 294.9L195.1 294.2L195.5 293.6L196.0 292.9L196.5 292.2L197.0 291.6L197.5 290.9L198.0 290.3L198.5 289.6L199.0 288.9L199.5 288.3L200.0 287.6L200.5 287.0L201.0 286.3L201.5 285.6L202.0 285.0L202.5 284.4L203.0 283.7L203.5 283.1L204.0 282.4L204.6 281.8L205.1 281.1L205.6 280.5L206.1 279.9L206.6 279.2L207.1 278.6L207.6 277.9L208.1 277.3L208.6 276.6L209.1 275.9L209.6 275.3L210.0 274.6L210.5 273.9L210.9 273.3L211.4 272.6L211.9 271.9L212.3 271.2L212.8 270.5L213.2 269.8L213.7 269.2L214.1 268.5L214.6 267.8L215.1 267.2L215.6 266.5L216.1 265.9L216.6 265.2L217.1 264.6L217.7 264.0L218.2 263.3L218.8 262.7L219.4 262.1L220.0 261.5L220.6 261.0L221.3 260.4L221.9 259.7L222.5 259.1L223.2 258.7L223.8 258.2L224.4 257.7L225.1 257.0L225.7 256.3L226.3 255.5L227.0 254.8L227.6 254.2L228.3 253.7L228.9 253.0L229.5 251.0L230.1 251.9L230.6 251.5L231.2 251.0L231.7 250.4L232.2 249.7L232.8 248.8L233.3 248.1L233.8 247.5L234.4 246.8L235.0 246.2L235.6 245.8L236.2 245.6L236.8 245.2L237.4 244.5L238.0 243.6L238.7 242.7L239.3 242.1L240.0 241.7L240.6 241.3L241.3 240.7L242.0 240.1L242.7 239.7L243.5 239.2L244.2 238.6L244.9 237.7L245.6 236.8L246.2 236.1L246.9 235.6L247.6 235.4L248.4 235.3L249.1 235.2L249.9 235.0L250.8 234.8L251.6 235.1L252.5 235.6L253.4 236.1L254.2 236.4L255.0 236.6L255.8 236.9L256.5 237.4L257.3 237.8L258.0 238.2L258.6 238.5L259.3 239.1L259.9 239.7L260.5 240.6L261.0 241.6L261.6 242.6L262.1 243.3L262.7 243.8L263.2 244.3L263.8 245.1L264.4 245.9L265.0 246.5L265.6 246.9L266.2 247.4L266.9 248.0L267.5 248.3L268.2 248.5L268.9 249.0L269.6 249.5L270.4 249.9L271.3 250.0L272.1 249.9L273.0 249.7L273.8 249.4L274.7 249.1L275.5 248.9L276.3 248.7L277.1 248.4L277.9 249.9L278.7 248.4L279.5 248.4L280.3 247.9L281.1 247.3L281.9 246.6L282.7 246.0L283.4 245.5L284.2 245.1L285.0 244.7L285.7 244.4L286.4 244.1L287.2 243.7L287.9 243.1L288.6 242.4L289.3 241.8L290.0 241.5L290.7 241.5L291.4 241.3L292.1 241.0L292.8 240.8L293.6 240.6L294.3 240.4L295.0 239.9L295.7 239.3L296.4 238.7L297.2 238.1L297.9 237.5L298.6 237.0L299.3 236.4L300.0 235.9L300.8 235.6L301.5 235.4L302.2 235.2L302.9 235.1L303.7 234.8L304.4 234.4L305.1 233.8L305.8 233.2L306.6 232.8L307.3 232.5L308.1 232.1L308.9 231.9L309.6 231.8L310.4 231.7L311.2 231.4L312.0 230.9L312.8 230.3L313.6 229.6L314.4 229.1L315.2 228.9L316.0 229.0L316.8 229.0L317.6 228.9L318.4 228.8L319.2 228.5L320.0 228.1L320.8 227.6L321.7 227.3L322.5 227.2L323.3 227.2L324.1 227.2L324.9 227.1L325.8 227.0L326.6 226.7L327.4 226.4L328.3 226.0L329.1 225.7L330.0 225.5L330.8 225.3L331.6 225.0L332.4 224.8L333.3 223.2L334.1 225.0L334.9 225.3L335.7 225.4L336.5 225.2L337.3 225.0L338.2 224.7L339.0 224.4L339.8 224.3L340.6 224.3L341.4 224.2L342.2 224.0L343.1 223.7L343.9 223.5L344.7 223.3L345.5 223.3L346.3 223.3L347.1 223.1L348.0 222.9L348.8 222.9L349.6 223.0L350.4 223.2L351.2 223.2L352.0 223.1L352.9 222.8L353.7 222.6L354.5 222.5L355.3 222.3L356.1 222.2L356.9 222.1L357.8 222.2L358.6 222.2L359.4 222.3L360.2 222.3L361.0 222.3L361.8 222.2L362.7 222.0L363.5 221.9L364.3 221.7L365.1 221.5L365.9 221.5L366.7 221.6L367.6 221.7L368.4 221.7L369.2 221.8L370.0 221.9L370.8 221.7L371.6 221.3L372.5 220.9L373.3 220.6L374.1 220.5L374.9 220.3L375.7 220.2L376.6 220.3L377.4 220.4L378.2 220.4L379.0 220.2L379.8 220.1L380.6 220.1L381.5 220.0L382.3 219.9L383.1 219.8L383.9 219.7L384.7 219.5L385.5 219.4L386.4 219.4L387.2 219.3L388.0 219.1L388.8 218.9L389.6 218.9L390.4 218.8L391.2 218.7L392.0 218.5L392.8 218.3L393.6 218.3L394.4 218.3L395.1 218.2L395.9 218.0L396.7 217.8L397.5 217.7L398.3 217.7L399.1 217.7L399.9 217.7L400.7 217.5L401.5 217.3L402.3 217.2L403.1 217.1L403.9 217.2L404.7 217.2L405.5 217.1L406.3 216.9L407.2 216.7L408.0 216.6L408.8 216.7L409.6 216.9L410.4 217.2L411.2 217.3L412.0 217.2L412.8 217.3L413.6 217.4L414.4 217.5L415.3 217.4L416.1 217.1L416.9 217.0L417.7 217.1L418.5 217.2L419.3 217.3L420.1 217.4L420.9 217.5L421.7 217.6L422.6 217.6L423.4 217.7L424.2 217.9L425.0 218.1L425.8 219.2L426.7 218.2L427.5 218.2L428.3 218.3L429.1 218.4L429.9 218.4L430.7 218.5L431.6 218.6L432.4 218.8L433.2 218.9L434.0 218.8L434.8 218.9L435.6 219.0L436.4 219.1L437.3 219.3L438.1 219.4L438.9 219.7L439.7 219.9L440.5 220.1L441.3 220.2L442.1 220.3L442.9 220.4L443.6 220.4L444.4 220.4L445.2 220.5L446.0 220.7L446.8 220.9L447.6 221.1L448.3 221.3L449.1 221.6L449.9 221.8L450.7 222.1L451.5 222.5L452.3 222.8L453.0 222.9L453.8 222.9L454.6 222.9L455.4 222.9L456.2 223.0L457.0 223.0L457.7 223.1L458.5 223.3L459.3 223.6L460.1 223.8L460.9 223.9L461.7 224.2L462.5 224.4L463.3 224.7L464.1 224.9L464.9 225.1L465.7 225.3L466.5 225.3L467.3 225.4L468.1 225.6L468.9 225.8L469.7 226.0L470.5 226.1L471.2 226.1L472.0 226.2L472.8 226.4L473.6 226.6L474.4 226.8L475.2 227.0L476.0 227.2L476.8 227.4L477.6 227.5L478.4 227.6L479.2 227.8L480.0 228.0L480.8 228.1L481.6 228.3L482.4 228.4L483.1 228.6L483.9 228.8L484.7 228.9L485.5 229.1L486.3 229.3L487.1 229.5L487.8 229.7L488.6 229.8L489.4 230.0L490.2 230.2L491.0 230.4L491.8 230.6L492.6 230.8L493.3 231.0L494.1 231.1L494.9 231.3L495.7 231.5L496.5 231.7L497.3 231.8L498.0 232.0L498.8 232.2L499.6 232.4L500.4 232.6L501.2 232.8L502.0 233.0L502.7 233.2L503.5 233.4L504.3 233.6L505.1 233.8L505.9 234.0L506.7 234.2L507.4 234.4L508.2 234.6L509.0 234.8L509.8 234.9L510.6 235.1L511.4 235.3L512.2 235.5L512.9 235.6L513.7 235.8L514.5 235.9L515.3 236.1L516.1 236.2L516.9 236.4L517.6 236.6L518.4 236.7L519.2 236.9L520.0 237.0L520.8 237.3L521.6 237.5L522.3 237.8L523.1 238.1L523.9 238.3L524.7 238.5L525.5 238.8L526.3 239.0L527.0 239.2L527.8 239.4L528.6 239.6L529.4 239.8L530.2 240.1L531.0 240.4L531.7 240.6L532.5 240.8L533.3 241.1L534.1 241.3L534.9 241.5L535.7 241.7L536.4 241.9L537.2 242.1L538.0 242.2L538.8 242.4L539.6 242.6L540.4 242.8L541.1 242.9L541.9 243.1L542.7 243.3L543.5 243.5L544.3 243.7L545.1 243.8L545.8 244.0L546.6 244.1L547.4 244.3L548.2 244.4L549.0 244.6L549.8 244.8L550.5 245.0L551.3 245.2L552.1 245.4L552.9 245.6L553.7 245.8L554.4 245.9L555.2 246.1L556.0 246.4L556.8 246.6L557.5 246.8L558.3 247.1L559.1 247.3L559.8 247.5L560.6 247.7L561.4 248.0L562.1 248.2L562.9 248.5L563.6 248.7L564.4 249.0L565.2 249.3L565.9 249.5L566.7 249.8L567.4 250.0L568.2 250.3L568.9 250.6L569.7 250.9L570.4 251.2L571.2 251.5L571.9 251.8L572.7 252.1L573.4 252.4L574.2 252.7L574.9 253.0L575.7 253.2L576.4 253.5L577.2 253.8L577.9 254.1L578.7 254.4L579.4 254.7L580.2 255.0L580.9 255.4L581.7 255.7L582.4 256.0L583.2 256.3L583.9 256.6L584.7 257.0L585.4 257.3L586.2 257.6L586.9 258.0L587.7 258.4L588.4 258.8L589.2 259.1L589.9 259.5L590.7 259.8L591.4 260.1L592.2 260.5L592.9 260.8L593.7 261.2L594.4 261.5L595.2 261.8L596.0 262.0L596.7 262.3L597.5 262.6L598.3 262.9L599.0 263.2L599.8 263.6L600.6 263.9L601.4 264.2L602.1 264.5L602.9 264.8L603.7 265.2L604.5 265.5L605.3 265.8L606.1 266.1L606.8 266.4L607.6 266.6L608.4 266.9L609.2 267.1L610.0 267.3L610.8 267.4L611.6 267.6L612.4 267.8L613.2 268.0L614.0 268.2L614.8 268.4L615.7 268.6L616.5 268.8L617.3 269.0L618.2 269.2L619.0 269.4L619.8 269.5L620.7 269.6L621.5 269.7L622.4 269.7L623.2 269.8L624.1 269.8L624.9 269.8L625.7 269.8L626.6 269.8L627.4 269.7L628.2 269.7L629.0 269.5L629.8 269.4L630.7 269.2L631.5 269.0L632.3 268.8L633.1 268.6L633.9 268.4L634.7 268.3L635.6 268.1L636.4 268.0L637.2 267.9L638.0 267.7L638.8 267.6L639.6 267.5L640.4 267.3L641.2 267.2L642.0 267.0L642.8 266.8L643.5 266.6L644.3 266.4L645.1 266.2L645.9 265.9L646.7 265.6L647.5 265.3L648.2 265.1L649.0 264.8L649.8 264.5L650.6 264.3L651.4 264.0L652.2 263.8L652.9 263.6L653.7 263.3L654.5 263.1L655.3 262.9L656.1 262.6L656.8 262.5L657.6 262.3L658.4 262.1L659.2 261.9L660.0 261.7L660.8 261.5L661.5 261.3L662.3 261.1L663.1 260.8L663.9 260.6L664.7 260.3L665.5 260.1L666.3 259.8L667.0 259.5L667.8 259.3L668.6 259.1L669.4 258.9L670.2 258.7L671.0 258.5L671.7 258.3L672.5 258.1L673.3 258.0L674.1 257.8L674.9 257.6L675.7 257.4L676.4 257.3L677.2 257.1L678.0 256.9L678.8 256.7L679.6 256.5L680.4 256.3L681.3 256.2L682.1 256.0L682.9 255.9L683.7 255.7L684.6 255.5L685.4 255.3L686.2 255.1L686.6 254.4L687.0 253.6L687.4 252.9L687.7 252.1L688.1 251.4L688.5 250.6L688.9 249.9L689.3 249.1L689.7 248.4L690.0 247.6L690.4 246.8L690.8 246.1L691.2 245.4L691.6 244.7L692.0 244.0L692.3 243.2L692.7 242.4L693.1 241.7L693.5 240.9L693.7 241.7L693.9 242.6L694.1 243.4L694.3 244.1L694.5 244.9L694.7 245.7L694.9 246.5L695.1 247.4L695.3 248.2L695.5 249.0L695.7 249.8L695.9 250.5L696.0 251.3L696.2 252.1L696.4 252.8L696.6 253.6L696.8 254.4L697.0 255.1L697.1 255.9L697.3 256.7L697.5 257.5L697.6 258.2L697.7 259.0L697.9 259.8L698.0 260.6L698.2 261.5L698.3 262.3L698.4 263.1L698.5 264.0L698.6 264.8L698.8 265.6L698.9 266.4L699.0 267.3L699.1 268.1L699.3 268.9L699.4 269.7L699.5 270.5L699.7 271.3L699.8 272.1L700.0 272.9L700.1 273.7L700.3 274.6L700.4 275.5L700.6 276.4L700.7 277.3L700.9 278.1L701.1 279.0L701.2 279.8L701.4 280.6L701.6 281.4L701.7 282.2L701.9 283.0L702.1 283.8L702.2 284.7L702.4 285.5L702.6 286.3L702.8 287.1L703.0 287.8L703.1 288.6L703.3 289.3L703.5 290.1L703.7 290.8L703.9 291.6L704.1 292.3L704.2 293.1L704.4 293.9L704.6 294.7L704.8 295.5L705.0 296.3L705.2 297.1L705.4 297.9L705.6 298.7L705.8 299.5L705.9 300.3L706.1 301.1L706.3 301.9L706.5 302.7L706.7 303.5L706.9 304.3L707.0 305.1L707.2 306.0L707.4 306.8L707.6 307.7L707.7 308.5L707.9 309.3L708.1 310.1L708.2 310.9L708.4 311.7L708.6 312.5L708.7 313.2L708.9 314.0L709.1 314.8L709.2 315.5L709.4 316.3L709.6 317.0L709.7 317.9L709.9 318.7L710.0 319.6L710.2 320.4L710.4 321.2L710.5 322.1L710.7 322.9L710.8 323.7L711.0 324.6L711.2 325.4L711.3 326.2L711.5 327.1L711.7 327.9L711.8 328.7L712.0 329.5L712.2 330.3L712.3 331.2L712.5 332.0L712.7 332.8L712.8 333.7L713.0 334.5L713.2 335.3L713.3 336.0L713.5 336.8L713.7 337.5L713.9 338.3L714.0 339.2L714.2 340.0L714.4 340.8L714.5 341.6L714.7 342.3L714.8 343.1L715.0 343.9L715.2 344.8L715.3 345.6L715.5 346.5L715.6 347.3L715.8 348.1L716.0 348.9L716.1 349.7L716.2 350.5L716.4 351.3L716.5 352.0L716.7 352.8L716.8 353.6L716.9 354.5L717.1 355.3L717.2 356.1L717.4 356.9L717.5 357.6L717.6 358.4L717.8 359.1L717.9 359.9L718.0 360.8L718.2 361.6L718.3 362.4L718.4 363.2L718.6 364.1L718.7 364.9L718.9 365.8L719.0 366.7L719.2 367.5L719.3 368.3L719.5 369.0L719.7 369.8L719.8 370.5L720.0 371.3L720.2 372.1L720.4 372.9L720.6 373.6L720.8 374.4L721.1 375.2L721.3 376.0L721.5 376.8L721.7 377.5L721.9 378.3L722.1 379.0L722.2 379.8L722.4 380.6L722.6 381.5L722.7 382.4L722.8 383.2L722.9 384.1L723.0 385.0L723.2 385.9L723.3 386.7L723.4 387.6L723.5 388.4L723.6 389.2L723.7 390.0L723.8 390.8L724.0 391.6L724.2 392.4L724.4 393.2L724.6 394.0L724.8 394.7L725.1 395.5L725.4 396.3L725.6 397.1L725.9 397.8L726.3 398.5L726.6 399.3L727.0 400.0L727.4 400.7L727.9 401.4L728.4 401.9L729.0 402.5L729.6 403.0L730.3 403.5L730.9 404.0L731.6 404.5L732.4 404.9L733.1 405.3L733.9 405.7L734.6 406.1L735.4 406.4L736.2 406.7L737.0 407.0L737.8 407.4L738.5 407.7L739.3 408.0L740.1 408.3L740.8 408.6L741.6 408.8L742.4 409.0L743.2 409.2L744.0 409.4L744.8 409.7L745.5 410.0L746.3 410.2L747.1 410.4L747.9 410.7L748.7 410.9L749.5 411.1L750.3 411.3L751.1 411.5L751.9 411.7L752.7 411.9L753.5 412.1L754.4 412.4L755.2 412.6L756.0 412.7L756.8 412.9L757.6 413.0L758.4 413.1L759.3 413.4L760.1 413.7L760.9 414.0L761.7 414.2L762.5 414.5L763.4 414.7L764.2 414.9L765.0 415.1" stroke="#E69F00" stroke-width="6.0"/>
<path d="M140.2 500.5L140.2 499.7L140.2 498.9L140.3 498.1L140.3 497.3L140.3 496.5L140.3 495.7L140.3 494.9L140.3 494.0L140.4 493.2L140.4 492.4L140.4 491.6L140.4 490.8L140.4 490.0L140.4 489.2L140.4 488.4L140.5 487.6L140.5 486.8L140.5 486.0L140.5 485.2L140.5 484.4L140.5 483.6L140.6 482.7L140.6 481.9L140.6 481.1L140.6 480.3L140.6 479.5L140.6 478.7L140.6 477.9L140.7 477.1L140.7 476.3L140.7 475.5L140.7 474.7L140.7 473.9L140.7 473.1L140.8 472.3L140.8 471.5L140.8 470.6L140.8 469.8L140.8 469.0L140.8 468.2L140.8 467.4L140.9 466.6L140.9 465.8L140.9 465.0L140.9 464.2L140.9 463.4L140.9 462.6L141.0 461.8L141.0 461.0L141.0 460.2L141.0 459.3L141.0 458.5L141.1 457.7L141.1 456.9L141.1 456.1L141.1 455.3L141.1 454.5L141.2 453.7L141.2 452.9L141.2 452.1L141.2 451.3L141.2 450.5L141.3 449.7L141.3 448.9L141.3 448.1L141.3 447.2L141.4 446.4L141.4 445.6L141.4 444.8L141.4 444.0L141.4 443.2L141.5 442.4L141.5 441.6L141.5 440.8L141.6 440.0L141.6 439.2L141.6 438.3L141.6 437.5L141.7 436.7L141.7 435.9L141.7 435.1L141.8 434.3L141.8 433.5L141.8 432.7L141.9 431.8L141.9 431.0L141.9 430.2L142.0 429.4L142.0 428.6L142.1 427.8L142.1 427.0L142.1 426.2L142.2 425.4L142.2 424.5L142.2 423.7L142.3 422.9L142.3 422.1L142.4 421.3L142.4 420.5L142.4 419.7L142.5 418.9L142.5 418.0L142.6 417.2L142.6 416.4L142.7 415.6L142.7 414.8L142.7 414.0L142.8 413.2L142.8 412.4L142.9 411.5L142.9 410.7L143.0 409.9L143.0 409.1L143.1 408.3L143.1 407.5L143.1 406.7L143.2 405.9L143.2 405.0L143.3 404.2L143.3 403.4L143.4 402.6L143.4 401.8L143.4 401.0L143.5 400.2L143.5 399.4L143.6 398.6L143.7 397.8L143.7 397.0L143.8 396.2L143.9 395.4L143.9 394.6L144.0 393.8L144.1 393.0L144.2 392.1L144.3 391.3L144.3 390.4L144.4 389.6L144.5 388.7L144.6 387.9L144.7 387.0L144.8 386.2L144.9 385.3L145.0 384.5L145.2 383.7L145.4 382.8L145.6 382.0L145.9 381.1L146.1 380.1L146.4 379.1L146.8 378.2L147.2 377.3L147.7 376.6L148.4 376.1L149.2 375.8L150.0 375.8L150.8 376.2L151.4 376.7L152.0 377.4L152.6 378.3L153.2 379.1L153.8 379.9L154.4 380.6L155.0 381.2L155.6 381.9L156.2 382.6L156.8 383.2L157.4 383.9L158.1 384.5L158.8 385.0L159.6 385.5L160.4 385.9L161.2 386.2L162.1 386.5L163.0 386.7L163.9 386.8L164.8 386.9L165.6 386.9L166.5 386.8L167.3 386.7L168.2 386.5L169.0 386.2L169.7 385.9L170.4 385.5L171.1 385.1L171.8 384.6L172.4 384.0L173.0 383.5L173.6 382.9L174.3 382.3L174.9 381.6L175.4 380.9L176.0 380.2L176.5 379.5L177.0 378.8L177.4 378.1L177.8 377.4L178.2 376.7L178.6 376.0L179.0 375.3L179.3 374.6L179.7 373.9L180.0 373.2L180.4 372.4L180.8 371.7L181.1 371.0L181.5 370.3L181.9 369.6L182.3 368.9L182.7 368.1L183.1 367.4L183.5 366.7L183.9 366.0L184.2 365.3L184.6 364.6L185.0 363.9L185.4 363.1L185.8 362.4L186.2 361.7L186.6 361.0L187.0 360.3L187.3 359.5L187.7 358.8L188.1 358.1L188.5 357.4L188.8 356.6L189.2 355.9L189.6 355.2L190.0 354.5L190.3 353.7L190.7 353.0L191.1 352.2L191.5 351.5L191.9 350.7L192.3 350.0L192.7 349.2L193.1 348.4L193.5 347.7L193.9 346.9L194.2 346.1L194.6 345.4L195.0 344.6L195.4 343.8L195.7 343.1L196.1 342.3L196.4 341.6L196.8 340.8L197.1 340.1L197.5 339.3L197.8 338.6L198.1 337.8L198.5 337.1L198.8 336.3L199.2 335.5L199.5 334.8L199.8 334.0L200.2 333.3L200.5 332.5L200.8 331.7L201.2 331.0L201.5 330.2L201.8 329.5L202.2 328.7L202.5 327.9L202.8 327.2L203.1 326.4L203.5 325.6L203.8 324.9L204.1 324.1L204.4 323.3L204.8 322.6L205.1 321.8L205.4 321.0L205.7 320.3L206.0 319.5L206.3 318.7L206.6 318.0L207.0 317.2L207.3 316.4L207.6 315.7L207.9 314.9L208.3 314.2L208.6 313.4L209.0 312.7L209.4 312.0L209.8 311.2L210.3 310.5L210.7 309.8L211.2 309.0L211.7 308.3L212.2 307.6L212.6 306.9L213.1 306.2L213.6 305.5L214.1 304.8L214.6 304.1L215.1 303.4L215.5 302.8L216.0 302.1L216.4 301.5L216.9 300.8L217.4 300.1L217.8 299.5L218.3 298.8L218.8 298.2L219.3 297.5L219.7 296.9L220.2 296.2L220.7 295.6L221.2 294.9L221.7 294.3L222.2 293.6L222.8 292.9L223.3 292.2L223.8 291.6L224.4 290.9L224.9 290.1L225.4 289.4L225.9 288.8L226.4 288.2L226.9 287.7L227.4 287.2L227.9 286.4L228.3 285.3L228.8 284.3L229.2 283.5L229.6 282.9L230.0 282.4L230.5 281.5L230.9 280.5L231.3 279.5L231.7 279.0L232.1 278.6L232.5 278.2L233.0 277.5L233.4 276.5L233.8 275.3L234.3 274.1L234.8 273.3L235.3 272.8L235.8 272.6L236.3 272.5L236.9 272.2L237.4 271.6L238.0 270.9L238.5 270.2L239.0 269.7L239.5 269.2L240.0 268.8L240.6 268.2L241.1 267.3L241.6 266.4L242.2 265.7L242.8 265.2L243.4 264.7L244.0 263.9L244.6 263.2L245.2 262.6L245.8 262.2L246.4 262.0L247.0 261.6L247.7 261.2L248.3 260.7L249.0 260.1L249.6 259.4L250.3 258.7L251.0 258.2L251.7 257.9L252.5 257.5L253.3 257.2L254.2 257.3L255.1 257.6L255.9 258.0L256.8 258.4L257.6 259.0L258.3 259.5L258.9 259.9L259.5 260.2L260.1 260.9L260.6 261.8L261.1 262.6L261.6 263.1L262.1 263.5L262.6 264.1L263.1 264.6L263.7 265.2L264.2 266.0L264.8 266.8L265.5 267.4L266.2 267.9L266.9 268.4L267.7 268.7L268.5 269.0L269.3 269.1L270.1 269.2L271.0 269.3L271.8 269.2L272.7 269.0L273.5 268.8L274.4 268.8L275.2 268.7L276.0 268.5L276.8 268.3L277.5 268.2L278.3 268.0L279.0 267.6L279.8 267.3L280.5 267.1L281.2 266.7L281.9 266.2L282.7 265.8L283.4 265.5L284.1 265.2L284.8 264.9L285.5 264.6L286.2 264.5L286.9 264.4L287.6 264.0L288.3 263.5L289.0 262.9L289.7 262.1L290.4 261.3L291.1 260.9L291.8 260.8L292.5 260.9L293.2 260.9L293.9 260.6L294.6 260.1L295.3 259.8L296.0 259.5L296.7 259.1L297.4 258.6L298.1 258.1L298.8 257.3L299.5 256.5L300.2 255.8L300.9 255.4L301.6 254.8L302.3 254.3L303.0 253.8L303.7 253.3L304.4 253.0L305.1 252.8L305.8 252.7L306.6 252.5L307.3 252.2L308.0 251.9L308.8 251.6L309.5 251.4L310.3 251.2L311.0 251.0L311.8 250.7L312.5 250.3L313.3 250.1L314.1 250.0L314.8 249.7L315.6 249.4L316.4 249.0L317.2 248.6L317.9 248.4L318.7 248.1L319.5 247.8L320.3 247.5L321.0 247.4L321.8 247.5L322.6 247.4L323.4 247.0L324.1 246.7L324.9 246.7L325.7 246.7L326.6 246.6L327.4 246.2L328.3 245.7L329.1 245.3L330.0 245.1L330.8 244.8L331.6 244.4L332.4 244.2L333.3 244.3L334.1 244.5L334.9 244.6L335.7 244.7L336.5 244.8L337.3 244.8L338.2 244.7L339.0 244.6L339.8 244.4L340.6 244.2L341.4 244.0L342.2 243.9L343.1 243.8L343.9 243.8L344.7 243.7L345.5 243.8L346.3 243.9L347.1 244.0L348.0 244.0L348.8 243.9L349.6 243.8L350.4 243.8L351.2 243.6L352.0 243.3L352.9 243.0L353.7 242.9L354.5 242.9L355.3 242.9L356.1 242.7L356.9 242.6L357.8 242.4L358.6 242.3L359.4 242.0L360.2 241.6L361.0 241.3L361.9 241.3L362.7 241.7L363.5 242.2L364.3 242.6L365.1 242.7L365.9 242.8L366.8 242.8L367.6 242.9L368.4 243.0L369.2 242.8L370.0 242.4L370.8 241.8L371.7 241.5L372.5 241.3L373.3 241.1L374.1 240.9L374.9 240.8L375.7 240.7L376.6 240.7L377.4 240.5L378.2 240.2L379.0 239.8L379.8 239.5L380.6 239.3L381.5 239.1L382.3 239.0L383.1 238.9L383.9 238.9L384.7 239.0L385.5 238.9L386.4 238.8L387.2 238.6L388.0 238.7L388.8 238.9L389.6 239.0L390.4 239.0L391.2 238.8L392.0 238.6L392.8 238.4L393.6 238.4L394.3 238.5L395.1 238.6L395.9 238.6L396.7 238.5L397.5 238.3L398.3 238.2L399.1 237.9L399.9 237.7L400.7 237.5L401.5 237.5L402.3 237.4L403.1 237.2L403.9 236.9L404.7 236.7L405.5 236.7L406.4 236.7L407.2 236.8L408.0 236.8L408.8 236.7L409.6 236.8L410.4 236.9L411.2 237.1L412.0 237.1L412.8 237.1L413.6 236.9L414.4 236.8L415.3 236.8L416.1 237.0L416.9 237.2L417.7 237.3L418.5 237.4L419.3 237.5L420.1 237.6L420.9 237.8L421.7 238.0L422.6 238.2L423.4 238.5L424.2 238.7L425.0 238.8L425.8 238.8L426.7 238.8L427.5 238.8L428.3 238.8L429.1 238.9L429.9 239.1L430.7 239.3L431.5 239.5L432.4 239.5L433.2 239.4L434.0 239.4L434.8 239.5L435.6 239.7L436.4 239.9L437.2 239.9L438.1 239.8L438.9 239.8L439.7 239.9L440.5 239.9L441.3 240.0L442.1 240.1L443.0 240.3L443.8 240.6L444.6 240.8L445.4 240.9L446.2 241.1L447.0 241.3L447.9 241.5L448.7 241.7L449.5 241.9L450.3 242.2L451.1 242.5L452.0 242.6L452.8 242.6L453.6 242.6L454.4 242.7L455.2 242.9L456.0 242.9L456.9 242.8L457.7 242.7L458.5 242.6L459.3 242.7L460.1 242.8L460.9 242.8L461.7 242.9L462.5 243.1L463.3 243.4L464.1 243.7L464.9 244.0L465.7 244.1L466.5 244.1L467.3 244.2L468.1 244.4L468.9 244.6L469.7 244.7L470.5 244.7L471.3 244.8L472.1 244.8L472.9 245.0L473.7 245.2L474.5 245.5L475.3 245.7L476.1 246.0L476.8 246.3L477.6 246.6L478.4 246.9L479.2 247.1L480.0 246.9L480.8 247.1L481.6 247.2L482.4 247.4L483.2 247.6L484.0 247.8L484.8 248.0L485.5 248.2L486.3 248.5L487.1 248.7L487.9 249.0L488.7 249.2L489.5 249.5L490.2 249.7L491.0 249.9L491.8 250.2L492.6 250.5L493.3 250.8L494.1 251.0L494.9 251.3L495.7 251.5L496.5 251.8L497.2 252.0L498.0 252.3L498.8 252.5L499.6 252.8L500.4 253.1L501.2 253.3L501.9 253.6L502.7 253.9L503.5 254.1L504.3 254.3L505.1 254.6L505.9 254.8L506.6 255.0L507.4 255.3L508.2 255.6L509.0 255.8L509.8 256.0L510.6 256.2L511.3 256.4L512.1 256.7L512.9 256.9L513.7 257.2L514.5 257.4L515.3 257.5L516.1 257.7L516.8 258.0L517.6 258.3L518.4 258.5L519.2 258.7L520.0 258.9L520.8 259.1L521.5 259.3L522.3 259.5L523.1 259.7L523.9 259.9L524.7 260.1L525.5 260.4L526.2 260.6L527.0 260.9L527.8 261.1L528.6 261.2L529.4 261.4L530.2 261.6L530.9 261.8L531.7 262.0L532.5 262.2L533.3 262.5L534.1 262.8L534.9 263.0L535.7 263.3L536.4 263.5L537.2 263.7L538.0 264.0L538.8 264.2L539.6 264.4L540.4 264.6L541.2 264.7L542.1 264.9L542.9 265.1L543.7 265.2L544.5 265.4L545.3 265.6L546.1 265.7L547.0 265.9L547.8 266.1L548.6 266.3L549.4 266.5L550.2 266.7L551.1 266.9L551.9 267.1L552.7 267.3L553.5 267.5L554.3 267.6L555.1 267.8L555.9 268.1L556.7 268.3L557.5 268.5L558.3 268.8L559.1 269.0L559.9 269.3L560.6 269.5L561.4 269.7L562.2 269.9L562.9 270.3L563.7 270.6L564.4 270.9L565.2 271.3L565.9 271.6L566.7 271.8L567.4 272.1L568.2 272.4L568.9 272.8L569.7 273.2L570.4 273.6L571.2 273.9L571.9 274.2L572.7 274.6L573.4 274.9L574.2 275.2L574.9 275.5L575.7 275.8L576.4 276.1L577.2 276.5L577.9 276.8L578.7 277.1L579.4 277.5L580.2 277.8L580.9 278.2L581.7 278.6L582.4 279.0L583.2 279.3L583.9 279.6L584.7 280.0L585.4 280.4L586.2 280.8L586.9 281.1L587.7 281.5L588.4 281.9L589.2 282.3L589.9 282.6L590.7 282.9L591.4 283.3L592.2 283.7L592.9 284.0L593.7 284.4L594.4 284.7L595.2 285.0L596.0 285.3L596.7 285.6L597.5 285.9L598.3 286.2L599.0 286.5L599.8 286.7L600.6 286.9L601.4 287.2L602.1 287.4L602.9 287.7L603.7 288.0L604.5 288.2L605.3 288.5L606.1 288.8L606.9 289.1L607.6 289.4L608.4 289.6L609.2 289.9L610.0 290.1L610.8 290.3L611.6 290.5L612.4 290.7L613.2 290.9L614.0 291.0L614.8 291.2L615.7 291.4L616.5 291.6L617.3 291.8L618.2 292.0L619.0 292.2L619.8 292.3L620.7 292.4L621.5 292.5L622.4 292.6L623.2 292.7L624.1 292.7L624.9 292.6L625.7 292.6L626.5 292.6L627.4 292.6L628.2 292.6L629.0 292.6L629.8 292.5L630.7 292.5L631.5 292.4L632.3 292.3L633.1 292.2L633.9 292.1L634.7 292.1L635.5 291.9L636.4 291.8L637.2 291.6L638.0 291.4L638.8 291.2L639.6 291.0L640.4 290.8L641.2 290.6L642.0 290.4L642.8 290.1L643.5 289.9L644.3 289.7L645.1 289.5L645.9 289.3L646.7 289.1L647.5 288.9L648.3 288.7L649.0 288.5L649.8 288.3L650.6 288.1L651.4 287.8L652.2 287.5L652.9 287.3L653.7 287.2L654.5 287.0L655.3 286.8L656.1 286.6L656.9 286.4L657.6 286.3L658.4 286.1L659.2 286.0L660.0 285.8L660.8 285.7L661.5 285.5L662.3 285.4L663.1 285.1L663.9 284.9L664.7 284.7L665.5 284.5L666.2 284.3L667.0 283.9L667.8 283.7L668.6 283.4L669.4 283.3L670.1 283.1L670.9 283.0L671.7 282.7L672.5 282.5L673.3 282.3L674.1 282.2L674.8 282.0L675.6 281.9L676.4 281.7L677.2 281.6L678.0 281.4L678.8 281.2L679.6 281.0L680.4 280.8L681.3 280.7L682.1 280.7L682.9 280.6L683.8 280.5L684.6 280.5L685.4 280.5L686.3 280.5L687.1 280.4L687.9 280.4L688.8 280.4L689.6 280.3L689.9 279.6L690.3 278.8L690.6 278.0L690.9 277.3L691.3 276.5L691.6 275.8L691.9 275.1L692.3 274.4L692.6 273.6L692.9 272.9L693.3 272.2L693.6 271.5L693.8 272.3L694.0 273.1L694.2 273.9L694.5 274.7L694.7 275.5L694.9 276.3L695.1 277.1L695.3 277.9L695.5 278.7L695.8 279.5L696.0 280.3L696.2 281.1L696.4 282.0L696.6 282.8L696.8 283.6L697.0 284.5L697.1 285.3L697.3 286.1L697.5 286.9L697.6 287.7L697.8 288.5L697.9 289.3L698.0 290.1L698.2 290.9L698.3 291.7L698.4 292.5L698.6 293.3L698.7 294.1L698.8 294.9L699.0 295.7L699.1 296.5L699.2 297.4L699.3 298.2L699.4 299.0L699.6 299.8L699.7 300.7L699.8 301.5L699.9 302.3L700.0 303.1L700.2 304.0L700.3 304.8L700.4 305.7L700.5 306.5L700.7 307.3L700.8 308.1L700.9 308.9L701.1 309.7L701.2 310.5L701.3 311.3L701.4 312.0L701.6 312.8L701.7 313.6L701.8 314.5L701.9 315.3L702.1 316.1L702.2 316.9L702.3 317.7L702.4 318.5L702.6 319.3L702.7 320.0L702.8 320.8L703.0 321.5L703.1 322.3L703.3 323.1L703.4 323.8L703.5 324.6L703.7 325.4L703.8 326.1L704.0 326.9L704.2 327.7L704.3 328.5L704.5 329.3L704.7 330.1L704.8 330.9L705.0 331.7L705.2 332.4L705.4 333.3L705.6 334.1L705.7 335.0L705.9 335.8L706.1 336.6L706.3 337.4L706.5 338.3L706.7 339.1L706.9 339.9L707.1 340.8L707.3 341.7L707.4 342.5L707.6 343.4L707.8 344.2L708.0 345.0L708.2 345.8L708.4 346.5L708.6 347.3L708.8 348.1L709.0 348.8L709.2 349.5L709.4 350.3L709.6 351.1L709.8 351.9L710.0 352.7L710.2 353.4L710.4 354.3L710.6 355.1L710.8 355.9L711.0 356.6L711.2 357.4L711.4 358.1L711.6 358.9L711.8 359.7L712.0 360.5L712.2 361.2L712.4 362.0L712.6 362.8L712.7 363.6L712.9 364.5L713.1 365.3L713.3 366.1L713.5 366.8L713.7 367.6L713.8 368.4L714.0 369.2L714.2 370.0L714.3 370.8L714.5 371.5L714.6 372.3L714.8 373.1L714.9 373.9L715.1 374.7L715.2 375.5L715.4 376.3L715.5 377.0L715.7 377.7L715.8 378.4L715.9 379.1L716.1 379.9L716.2 380.7L716.3 381.5L716.4 382.3L716.6 383.0L716.7 383.8L716.8 384.6L716.9 385.4L717.1 386.2L717.2 387.0L717.3 387.8L717.4 388.7L717.5 389.5L717.7 390.4L717.8 391.2L717.9 392.0L718.0 392.8L718.1 393.7L718.2 394.5L718.3 395.3L718.4 396.1L718.5 397.0L718.6 397.8L718.7 398.6L718.8 399.4L719.0 400.2L719.1 401.0L719.2 401.9L719.3 402.7L719.4 403.6L719.5 404.5L719.6 405.4L719.7 406.2L719.8 407.1L719.9 407.9L720.0 408.7L720.1 409.4L720.2 410.2L720.3 411.0L720.4 411.8L720.5 412.6L720.6 413.4L720.8 414.2L720.9 415.0L721.0 415.8L721.1 416.7L721.2 417.4L721.3 418.2L721.4 419.1L721.5 419.9L721.7 420.8L721.8 421.7L721.9 422.5L722.0 423.4L722.1 424.3L722.2 425.1L722.3 425.9L722.4 426.7L722.5 427.5L722.7 428.3L722.8 429.0L722.9 429.7L723.0 430.5L723.1 431.2L723.2 432.0L723.3 432.8L723.4 433.6L723.5 434.3L723.6 435.1L723.7 435.8L723.8 436.6L723.9 437.4L724.0 438.3L724.1 439.1L724.2 439.9L724.2 440.8L724.3 441.6L724.4 442.4L724.5 443.2L724.6 444.0L724.7 444.8L724.8 445.7L724.9 446.5L725.0 447.3L725.2 448.0L725.3 448.8L725.4 449.6L725.5 450.6L725.7 451.5L725.9 452.4L726.1 453.2L726.4 454.1L726.8 454.8L727.2 455.5L727.7 456.2L728.1 457.0L728.6 457.7L729.1 458.4L729.6 459.0L730.2 459.7L730.8 460.4L731.4 461.0L732.0 461.6L732.6 462.2L733.3 462.7L733.9 463.2L734.6 463.6L735.3 464.1L735.9 464.5L736.6 465.0L737.3 465.4L738.0 465.9L738.7 466.2L739.4 466.6L740.1 467.0L740.9 467.3L741.6 467.7L742.3 468.1L743.1 468.6L743.8 469.0L744.6 469.4L745.4 469.8L746.1 470.2L746.9 470.6L747.7 470.9L748.5 471.3L749.3 471.6L750.0 471.9L750.8 472.3L751.6 472.6L752.4 473.0L753.2 473.3L754.0 473.6L754.8 473.8L755.6 474.1L756.3 474.3L757.1 474.5L757.9 474.8L758.7 475.0L759.5 475.3L760.3 475.7L761.1 476.0L761.8 476.3L762.6 476.5L763.4 476.8L764.2 477.1L765.0 477.3" stroke="#E51E10" stroke-width="6.0"/>
</g>
<g clip-path="url(#c)"><path d="M201.0 329.0L201.0 365.6M197.4 329.0L204.6 329.0M197.4 365.6L204.6 365.6" stroke="#9400D3" stroke-width="3" fill="none"/><circle cx="201.0" cy="346.7" r="5.3" fill="#9400D3"/><path d="M201.5 263.0L201.5 282.0M197.9 263.0L205.1 263.0M197.9 282.0L205.1 282.0" stroke="#0072B2" stroke-width="3" fill="none"/><path d="M201.5 199.4L201.5 217.0M197.9 199.4L205.1 199.4M197.9 217.0L205.1 217.0" stroke="#56B4E9" stroke-width="3" fill="none"/><circle cx="201.5" cy="208.3" r="5.3" fill="#56B4E9"/><path d="M278.4 230.7L278.4 283.9M274.8 230.7L282.0 230.7M274.8 283.9L282.0 283.9" stroke="#56B4E9" stroke-width="3" fill="none"/><circle cx="278.4" cy="248.3" r="5.3" fill="#56B4E9"/><path d="M322.1 244.5L322.1 291.3M318.5 244.5L325.7 244.5M318.5 291.3L325.7 291.3" stroke="#56B4E9" stroke-width="3" fill="none"/><circle cx="322.1" cy="267.9" r="5.3" fill="#56B4E9"/><path d="M278.4 233.4L278.4 297.4M274.8 233.4L282.0 233.4M274.8 297.4L282.0 297.4" stroke="#009E73" stroke-width="3" fill="none"/><circle cx="278.4" cy="265.1" r="5.3" fill="#009E73"/><path d="M322.1 198.7L322.1 217.0M318.5 198.7L325.7 198.7M318.5 217.0L325.7 217.0" stroke="#009E73" stroke-width="3" fill="none"/><circle cx="322.1" cy="206.3" r="5.3" fill="#009E73"/><circle cx="202.4" cy="272.5" r="5.6" fill="#0072B2"/><path d="M278.4 198.4L278.4 228.1M274.8 198.4L282.0 198.4M274.8 228.1L282.0 228.1" stroke="#F0E442" stroke-width="3" fill="none"/><circle cx="278.4" cy="213.0" r="5.3" fill="#F0E442"/><path d="M322.1 206.3L322.1 233.6M318.5 206.3L325.7 206.3M318.5 233.6L325.7 233.6" stroke="#F0E442" stroke-width="3" fill="none"/><path d="M197.9 271.2L205.1 271.2" stroke="#F0E442" stroke-width="2.4"/><path d="M201.5 251.9L201.5 276.7M197.9 251.9L205.1 251.9M197.9 276.7L205.1 276.7" stroke="#E69F00" stroke-width="3" fill="none"/><circle cx="201.5" cy="263.4" r="5.3" fill="#E69F00"/><path d="M278.4 238.5L278.4 267.7M274.8 238.5L282.0 238.5M274.8 267.7L282.0 267.7" stroke="#E69F00" stroke-width="3" fill="none"/><circle cx="278.4" cy="251.5" r="5.3" fill="#E69F00"/><path d="M322.1 196.6L322.1 240.8M318.5 196.6L325.7 196.6M318.5 240.8L325.7 240.8" stroke="#E69F00" stroke-width="3" fill="none"/><circle cx="322.1" cy="218.7" r="5.3" fill="#E69F00"/><path d="M201.5 284.0L201.5 334.0M197.9 284.0L205.1 284.0M197.9 334.0L205.1 334.0" stroke="#E51E10" stroke-width="3" fill="none"/><circle cx="201.5" cy="309.4" r="5.3" fill="#E51E10"/><path d="M271.7 235.1L285.1 235.1L278.4 245.3Z" fill="#0072B2"/><path d="M271.7 252.3L285.1 252.3L278.4 262.5Z" fill="#E51E10"/><path d="M315.4 236.0L328.8 236.0L322.1 246.2Z" fill="#E51E10"/></g>
<rect x="124.9" y="68.2" width="640.0" height="431.0" fill="none" stroke="#000" stroke-width="1.5"/>
<path d="M124.90 499.20L124.90 492.10M137.70 499.20L137.70 495.30M150.50 499.20L150.50 495.30M163.30 499.20L163.30 495.30M176.10 499.20L176.10 495.30M188.90 499.20L188.90 495.30M201.70 499.20L201.70 495.30M214.50 499.20L214.50 495.30M227.30 499.20L227.30 495.30M240.10 499.20L240.10 495.30M252.90 499.20L252.90 492.10M265.70 499.20L265.70 495.30M278.50 499.20L278.50 495.30M291.30 499.20L291.30 495.30M304.10 499.20L304.10 495.30M316.90 499.20L316.90 495.30M329.70 499.20L329.70 495.30M342.50 499.20L342.50 495.30M355.30 499.20L355.30 495.30M368.10 499.20L368.10 495.30M380.90 499.20L380.90 492.10M393.70 499.20L393.70 495.30M406.50 499.20L406.50 495.30M419.30 499.20L419.30 495.30M432.10 499.20L432.10 495.30M444.90 499.20L444.90 495.30M457.70 499.20L457.70 495.30M470.50 499.20L470.50 495.30M483.30 499.20L483.30 495.30M496.10 499.20L496.10 495.30M508.90 499.20L508.90 492.10M521.70 499.20L521.70 495.30M534.50 499.20L534.50 495.30M547.30 499.20L547.30 495.30M560.10 499.20L560.10 495.30M572.90 499.20L572.90 495.30M585.70 499.20L585.70 495.30M598.50 499.20L598.50 495.30M611.30 499.20L611.30 495.30M624.10 499.20L624.10 495.30M636.90 499.20L636.90 492.10M649.70 499.20L649.70 495.30M662.50 499.20L662.50 495.30M675.30 499.20L675.30 495.30M688.10 499.20L688.10 495.30M700.90 499.20L700.90 495.30M713.70 499.20L713.70 495.30M726.50 499.20L726.50 495.30M739.30 499.20L739.30 495.30M752.10 499.20L752.10 495.30M764.90 499.20L764.90 492.10M124.90 68.20L124.90 75.30M133.46 68.20L133.46 72.10M142.01 68.20L142.01 72.10M150.57 68.20L150.57 72.10M159.12 68.20L159.12 72.10M167.68 68.20L167.68 72.10M176.24 68.20L176.24 72.10M184.79 68.20L184.79 72.10M193.35 68.20L193.35 72.10M201.90 68.20L201.90 72.10M210.46 68.20L210.46 75.30M219.02 68.20L219.02 72.10M227.57 68.20L227.57 72.10M236.13 68.20L236.13 72.10M244.68 68.20L244.68 72.10M253.24 68.20L253.24 72.10M261.80 68.20L261.80 72.10M270.35 68.20L270.35 72.10M278.91 68.20L278.91 72.10M287.46 68.20L287.46 72.10M296.02 68.20L296.02 75.30M304.58 68.20L304.58 72.10M313.13 68.20L313.13 72.10M321.69 68.20L321.69 72.10M330.24 68.20L330.24 72.10M338.80 68.20L338.80 72.10M347.36 68.20L347.36 72.10M355.91 68.20L355.91 72.10M364.47 68.20L364.47 72.10M373.02 68.20L373.02 72.10M381.58 68.20L381.58 75.30M390.14 68.20L390.14 72.10M398.69 68.20L398.69 72.10M407.25 68.20L407.25 72.10M415.80 68.20L415.80 72.10M424.36 68.20L424.36 72.10M432.92 68.20L432.92 72.10M441.47 68.20L441.47 72.10M450.03 68.20L450.03 72.10M458.58 68.20L458.58 72.10M467.14 68.20L467.14 75.30M475.70 68.20L475.70 72.10M484.25 68.20L484.25 72.10M492.81 68.20L492.81 72.10M501.36 68.20L501.36 72.10M509.92 68.20L509.92 72.10M518.48 68.20L518.48 72.10M527.03 68.20L527.03 72.10M535.59 68.20L535.59 72.10M544.14 68.20L544.14 72.10M552.70 68.20L552.70 75.30M561.26 68.20L561.26 72.10M569.81 68.20L569.81 72.10M578.37 68.20L578.37 72.10M586.92 68.20L586.92 72.10M595.48 68.20L595.48 72.10M604.04 68.20L604.04 72.10M612.59 68.20L612.59 72.10M621.15 68.20L621.15 72.10M629.70 68.20L629.70 72.10M638.26 68.20L638.26 75.30M646.82 68.20L646.82 72.10M655.37 68.20L655.37 72.10M663.93 68.20L663.93 72.10M672.48 68.20L672.48 72.10M681.04 68.20L681.04 72.10M689.60 68.20L689.60 72.10M698.15 68.20L698.15 72.10M706.71 68.20L706.71 72.10M715.26 68.20L715.26 72.10M723.82 68.20L723.82 75.30M732.38 68.20L732.38 72.10M740.93 68.20L740.93 72.10M749.49 68.20L749.49 72.10M758.04 68.20L758.04 72.10M124.90 68.40L132.00 68.40M764.90 68.40L757.80 68.40M124.90 80.72L128.80 80.72M764.90 80.72L761.00 80.72M124.90 93.03L128.80 93.03M764.90 93.03L761.00 93.03M124.90 105.35L128.80 105.35M764.90 105.35L761.00 105.35M124.90 117.66L128.80 117.66M764.90 117.66L761.00 117.66M124.90 129.98L132.00 129.98M764.90 129.98L757.80 129.98M124.90 142.29L128.80 142.29M764.90 142.29L761.00 142.29M124.90 154.61L128.80 154.61M764.90 154.61L761.00 154.61M124.90 166.93L128.80 166.93M764.90 166.93L761.00 166.93M124.90 179.24L128.80 179.24M764.90 179.24L761.00 179.24M124.90 191.56L132.00 191.56M764.90 191.56L757.80 191.56M124.90 203.87L128.80 203.87M764.90 203.87L761.00 203.87M124.90 216.19L128.80 216.19M764.90 216.19L761.00 216.19M124.90 228.50L128.80 228.50M764.90 228.50L761.00 228.50M124.90 240.82L128.80 240.82M764.90 240.82L761.00 240.82M124.90 253.14L132.00 253.14M764.90 253.14L757.80 253.14M124.90 265.45L128.80 265.45M764.90 265.45L761.00 265.45M124.90 277.77L128.80 277.77M764.90 277.77L761.00 277.77M124.90 290.08L128.80 290.08M764.90 290.08L761.00 290.08M124.90 302.40L128.80 302.40M764.90 302.40L761.00 302.40M124.90 314.71L132.00 314.71M764.90 314.71L757.80 314.71M124.90 327.03L128.80 327.03M764.90 327.03L761.00 327.03M124.90 339.35L128.80 339.35M764.90 339.35L761.00 339.35M124.90 351.66L128.80 351.66M764.90 351.66L761.00 351.66M124.90 363.98L128.80 363.98M764.90 363.98L761.00 363.98M124.90 376.29L132.00 376.29M764.90 376.29L757.80 376.29M124.90 388.61L128.80 388.61M764.90 388.61L761.00 388.61M124.90 400.92L128.80 400.92M764.90 400.92L761.00 400.92M124.90 413.24L128.80 413.24M764.90 413.24L761.00 413.24M124.90 425.56L128.80 425.56M764.90 425.56L761.00 425.56M124.90 437.87L132.00 437.87M764.90 437.87L757.80 437.87M124.90 450.19L128.80 450.19M764.90 450.19L761.00 450.19M124.90 462.50L128.80 462.50M764.90 462.50L761.00 462.50M124.90 474.82L128.80 474.82M764.90 474.82L761.00 474.82M124.90 487.13L128.80 487.13M764.90 487.13L761.00 487.13M124.90 499.45L132.00 499.45M764.90 499.45L757.80 499.45" stroke="#000" stroke-width="1" fill="none"/>
<text transform="translate(445.0,19.4) scale(1,1.05)" font-size="22.67" text-anchor="middle">rest-frame time after explosion (days)</text>
<text transform="translate(444.8,563.5) scale(1,1.05)" font-size="22.67" text-anchor="middle">MJD - 60156</text>
<text transform="translate(29.9,283.7) rotate(-90) scale(1,1.05)" font-size="22.67" text-anchor="middle">apparent magnitude</text>
<text transform="translate(127.7,530.2) scale(1,1.05)" font-size="22.67" text-anchor="middle">0</text>
<text transform="translate(255.7,530.2) scale(1,1.05)" font-size="22.67" text-anchor="middle">100</text>
<text transform="translate(383.7,530.2) scale(1,1.05)" font-size="22.67" text-anchor="middle">200</text>
<text transform="translate(511.7,530.2) scale(1,1.05)" font-size="22.67" text-anchor="middle">300</text>
<text transform="translate(639.7,530.2) scale(1,1.05)" font-size="22.67" text-anchor="middle">400</text>
<text transform="translate(767.7,530.2) scale(1,1.05)" font-size="22.67" text-anchor="middle">500</text>
<text transform="translate(127.7,53.3) scale(1,1.05)" font-size="22.67" text-anchor="middle">0</text>
<text transform="translate(213.3,53.3) scale(1,1.05)" font-size="22.67" text-anchor="middle">20</text>
<text transform="translate(298.8,53.3) scale(1,1.05)" font-size="22.67" text-anchor="middle">40</text>
<text transform="translate(384.4,53.3) scale(1,1.05)" font-size="22.67" text-anchor="middle">60</text>
<text transform="translate(469.9,53.3) scale(1,1.05)" font-size="22.67" text-anchor="middle">80</text>
<text transform="translate(555.5,53.3) scale(1,1.05)" font-size="22.67" text-anchor="middle">100</text>
<text transform="translate(641.1,53.3) scale(1,1.05)" font-size="22.67" text-anchor="middle">120</text>
<text transform="translate(726.6,53.3) scale(1,1.05)" font-size="22.67" text-anchor="middle">140</text>
<text transform="translate(110.8,76.1) scale(1,1.05)" font-size="22.67" text-anchor="end">27.5</text>
<text transform="translate(110.8,137.7) scale(1,1.05)" font-size="22.67" text-anchor="end">28</text>
<text transform="translate(110.8,199.2) scale(1,1.05)" font-size="22.67" text-anchor="end">28.5</text>
<text transform="translate(110.8,260.8) scale(1,1.05)" font-size="22.67" text-anchor="end">29</text>
<text transform="translate(110.8,322.4) scale(1,1.05)" font-size="22.67" text-anchor="end">29.5</text>
<text transform="translate(110.8,384.0) scale(1,1.05)" font-size="22.67" text-anchor="end">30</text>
<text transform="translate(110.8,445.5) scale(1,1.05)" font-size="22.67" text-anchor="end">30.5</text>
<text transform="translate(110.8,507.1) scale(1,1.05)" font-size="22.67" text-anchor="end">31</text>
<text transform="translate(153.5,104.2) scale(1,1.05)" font-size="22.67">M<tspan dy="6.8" font-size="18.1">ZAMS</tspan><tspan dy="-6.8"> = 16 M</tspan></text>
<circle cx="305.8" cy="100.5" r="5.5" fill="none" stroke="#000" stroke-width="0.9"/><circle cx="305.8" cy="100.5" r="1.1" fill="#000"/>
<text transform="translate(318.5,104.2) scale(1,1.05)" font-size="22.67" text-anchor="start">with CSM</text>
<text transform="translate(153.5,137.4) scale(1,1.05)" font-size="22.67" text-anchor="start">E = 0.5 B</text>
<text transform="translate(432.3,94.8) scale(1,1.05)" font-size="22.67" text-anchor="start">F090W</text><path d="M517.3 86.5L582.3 86.5M518.8 82.9L518.8 90.1M580.8 82.9L580.8 90.1" stroke="#9400D3" stroke-width="3" fill="none"/><circle cx="549.7" cy="86.5" r="5.3" fill="#9400D3"/><text transform="translate(432.3,117.5) scale(1,1.05)" font-size="22.67" text-anchor="start">F115W</text><path d="M517.3 109.2L582.3 109.2M518.8 105.6L518.8 112.8M580.8 105.6L580.8 112.8" stroke="#0072B2" stroke-width="3" fill="none"/><circle cx="549.7" cy="109.2" r="5.3" fill="#0072B2"/><text transform="translate(432.3,140.1) scale(1,1.05)" font-size="22.67" text-anchor="start">F150W</text><path d="M517.3 131.8L582.3 131.8M518.8 128.2L518.8 135.4M580.8 128.2L580.8 135.4" stroke="#56B4E9" stroke-width="3" fill="none"/><circle cx="549.7" cy="131.8" r="5.3" fill="#56B4E9"/><text transform="translate(432.3,162.8) scale(1,1.05)" font-size="22.67" text-anchor="start">F200W</text><path d="M517.3 154.5L582.3 154.5M518.8 150.9L518.8 158.1M580.8 150.9L580.8 158.1" stroke="#009E73" stroke-width="3" fill="none"/><circle cx="549.7" cy="154.5" r="5.3" fill="#009E73"/>
<text transform="translate(589.0,94.8) scale(1,1.05)" font-size="22.67" text-anchor="start">F277W</text><path d="M674.3 86.5L739.2 86.5M675.8 82.9L675.8 90.1M737.7 82.9L737.7 90.1" stroke="#F0E442" stroke-width="3" fill="none"/><circle cx="706.6" cy="86.5" r="5.3" fill="#F0E442"/><text transform="translate(589.0,117.5) scale(1,1.05)" font-size="22.67" text-anchor="start">F356W</text><path d="M674.3 109.2L739.2 109.2M675.8 105.6L675.8 112.8M737.7 105.6L737.7 112.8" stroke="#E69F00" stroke-width="3" fill="none"/><circle cx="706.6" cy="109.2" r="5.3" fill="#E69F00"/><text transform="translate(589.0,140.1) scale(1,1.05)" font-size="22.67" text-anchor="start">F444W</text><path d="M674.3 131.8L739.2 131.8M675.8 128.2L675.8 135.4M737.7 128.2L737.7 135.4" stroke="#E51E10" stroke-width="3" fill="none"/><circle cx="706.6" cy="131.8" r="5.3" fill="#E51E10"/>
</svg></body></html>
